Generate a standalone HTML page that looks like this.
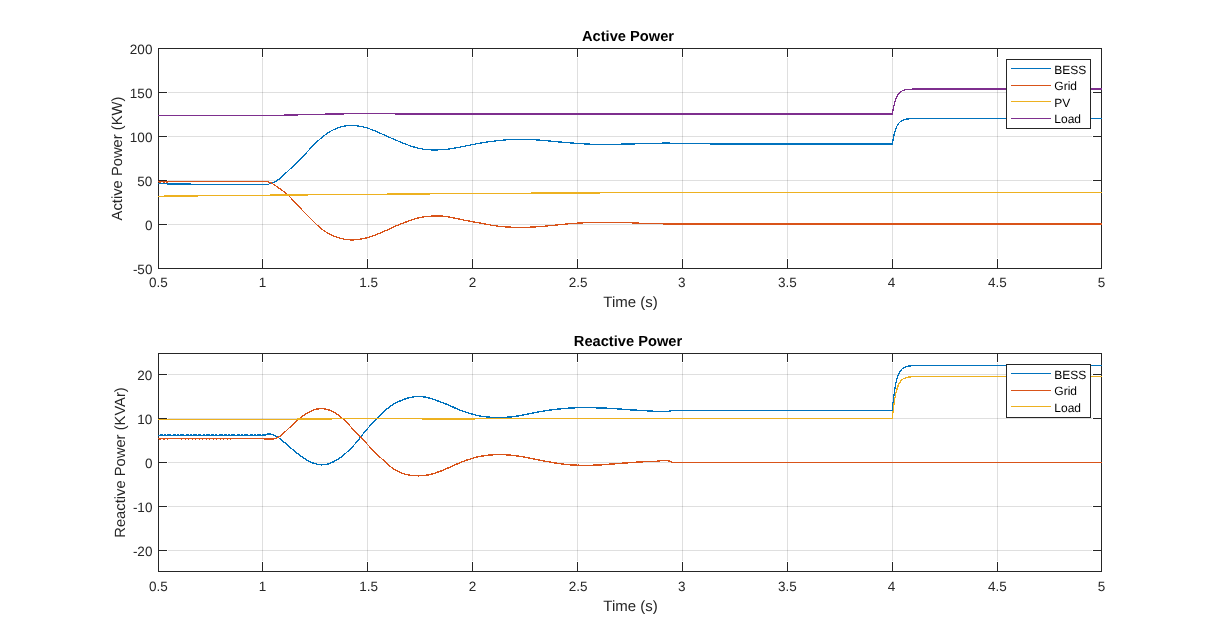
<!DOCTYPE html>
<html lang="en">
<head>
<meta charset="utf-8">
<title>Active and Reactive Power</title>
<style>
html,body{margin:0;padding:0;background:#fff;}
body{width:1218px;height:643px;overflow:hidden;}
svg{display:block;font-family:"Liberation Sans",sans-serif;}
svg{will-change:transform;}
text{filter:grayscale(1);}
</style>
</head>
<body>
<svg width="1218" height="643" viewBox="0 0 1218 643" shape-rendering="crispEdges" text-rendering="geometricPrecision">
<rect width="1218" height="643" fill="#fff"/>
<path d="M262.5,58V258M367.5,58V258M472.5,58V258M577.5,58V258M682.5,58V258M787.5,58V258M892.5,58V258M997.5,58V258" stroke="#262626" stroke-opacity=".15" stroke-width="1" fill="none"/>
<path d="M168,92.5H1092M168,136.5H1092M168,180.5H1092M168,224.5H1092" stroke="#262626" stroke-opacity=".15" stroke-width="1" fill="none"/>
<path d="M262.5,268v-9M262.5,49v8M367.5,268v-9M367.5,49v8M472.5,268v-9M472.5,49v8M577.5,268v-9M577.5,49v8M682.5,268v-9M682.5,49v8M787.5,268v-9M787.5,49v8M892.5,268v-9M892.5,49v8M997.5,268v-9M997.5,49v8M159,92.5h8M1101,92.5h-8M159,136.5h8M1101,136.5h-8M159,180.5h8M1101,180.5h-8M159,224.5h8M1101,224.5h-8" stroke="#262626" stroke-width="1" fill="none"/>
<rect x="158.5" y="48.5" width="943" height="220" fill="none" stroke="#262626" stroke-width="1"/>
<clipPath id="c1"><rect x="158" y="48" width="944" height="221"/></clipPath>
<g clip-path="url(#c1)" fill="none" stroke-width="1.25" stroke-linejoin="round">
<path d="M157.8,183.5L166.7,183.5L167.3,184.0L190.7,184.0L191.3,184.5L267.5,184.5L267.8,184.5L268.3,184.3L268.8,184.1L269.3,183.9L269.8,183.8L270.3,183.6L270.8,183.4L271.3,183.2L271.8,183.0L272.3,182.8L272.8,182.6L273.3,182.4L273.8,182.2L274.3,182.0L274.8,181.8L275.3,181.5L275.8,181.3L276.3,181.0L276.8,180.7L277.3,180.4L277.8,180.0L278.3,179.7L278.8,179.3L279.3,178.9L279.8,178.5L280.3,178.1L280.8,177.7L281.3,177.2L281.8,176.8L282.3,176.3L282.8,175.9L283.3,175.4L283.8,174.9L284.3,174.4L284.8,174.0L285.3,173.5L285.8,173.0L286.3,172.6L286.8,172.1L287.3,171.6L287.8,171.2L288.3,170.7L288.8,170.2L289.3,169.8L289.8,169.3L290.3,168.8L290.8,168.4L291.3,167.9L291.8,167.4L292.3,167.0L292.8,166.5L293.3,166.0L293.8,165.6L294.3,165.1L294.8,164.6L295.3,164.1L295.8,163.7L296.3,163.2L296.8,162.7L297.3,162.2L297.8,161.7L298.3,161.2L298.8,160.7L299.3,160.2L299.8,159.7L300.3,159.2L300.8,158.7L301.3,158.1L301.8,157.6L302.3,157.1L302.8,156.6L303.3,156.0L303.8,155.5L304.3,155.0L304.8,154.4L305.3,153.9L305.8,153.4L306.3,152.8L306.8,152.3L307.3,151.7L307.8,151.2L308.3,150.7L308.8,150.1L309.3,149.6L309.8,149.1L310.3,148.5L310.8,148.0L311.3,147.5L311.8,146.9L312.3,146.4L312.8,145.9L313.3,145.4L313.8,144.9L314.3,144.4L314.8,143.9L315.3,143.4L315.8,142.9L316.3,142.4L316.8,141.9L317.3,141.5L317.8,141.0L318.3,140.5L318.8,140.1L319.3,139.6L319.8,139.2L320.3,138.7L320.8,138.3L321.3,137.9L321.8,137.5L322.3,137.0L322.8,136.6L323.3,136.2L323.8,135.9L324.3,135.5L324.8,135.1L325.3,134.7L325.8,134.4L326.3,134.0L326.8,133.7L327.3,133.3L327.8,133.0L328.3,132.7L328.8,132.4L329.3,132.1L329.8,131.8L330.3,131.5L330.8,131.2L331.3,130.9L331.8,130.7L332.3,130.4L332.8,130.2L333.3,129.9L333.8,129.7L334.3,129.5L334.8,129.3L335.3,129.0L335.8,128.8L336.3,128.6L336.8,128.4L337.3,128.2L337.8,128.0L338.3,127.9L338.8,127.7L339.3,127.5L339.8,127.3L340.3,127.2L340.8,127.0L341.3,126.9L341.8,126.7L342.3,126.6L342.8,126.5L343.3,126.4L343.8,126.3L344.3,126.1L344.8,126.0L345.3,126.0L345.8,125.9L346.3,125.8L346.8,125.7L347.3,125.7L347.8,125.6L348.3,125.5L348.8,125.5L349.3,125.5L349.8,125.4L350.3,125.4L350.8,125.4L351.3,125.4L351.8,125.4L352.3,125.4L352.8,125.4L353.3,125.5L353.8,125.5L354.3,125.5L354.8,125.6L355.3,125.6L355.8,125.7L356.3,125.7L356.8,125.8L357.3,125.9L357.8,125.9L358.3,126.0L358.8,126.1L359.3,126.2L359.8,126.3L360.3,126.4L360.8,126.5L361.3,126.6L361.8,126.7L362.3,126.8L362.8,126.9L363.3,127.0L363.8,127.1L364.3,127.3L364.8,127.4L365.3,127.5L365.8,127.7L366.3,127.8L366.8,127.9L367.3,128.1L367.8,128.2L368.3,128.4L368.8,128.6L369.3,128.7L369.8,128.9L370.3,129.1L370.8,129.3L371.3,129.4L371.8,129.6L372.3,129.8L372.8,130.0L373.3,130.2L373.8,130.4L374.3,130.6L374.8,130.8L375.3,131.0L375.8,131.2L376.3,131.4L376.8,131.7L377.3,131.9L377.8,132.1L378.3,132.3L378.8,132.5L379.3,132.8L379.8,133.0L380.3,133.2L380.8,133.4L381.3,133.6L381.8,133.9L382.3,134.1L382.8,134.3L383.3,134.5L383.8,134.8L384.3,135.0L384.8,135.2L385.3,135.4L385.8,135.7L386.3,135.9L386.8,136.1L387.3,136.3L387.8,136.5L388.3,136.8L388.8,137.0L389.3,137.2L389.8,137.4L390.3,137.6L390.8,137.9L391.3,138.1L391.8,138.3L392.3,138.5L392.8,138.7L393.3,138.9L393.8,139.2L394.3,139.4L394.8,139.6L395.3,139.8L395.8,140.0L396.3,140.2L396.8,140.4L397.3,140.7L397.8,140.9L398.3,141.1L398.8,141.3L399.3,141.5L399.8,141.7L400.3,141.9L400.8,142.1L401.3,142.3L401.8,142.6L402.3,142.8L402.8,143.0L403.3,143.2L403.8,143.4L404.3,143.6L404.8,143.8L405.3,144.0L405.8,144.2L406.3,144.4L406.8,144.6L407.3,144.8L407.8,144.9L408.3,145.1L408.8,145.3L409.3,145.5L409.8,145.7L410.3,145.9L410.8,146.0L411.3,146.2L411.8,146.4L412.3,146.5L412.8,146.7L413.3,146.8L413.8,147.0L414.3,147.1L414.8,147.3L415.3,147.4L415.8,147.6L416.3,147.7L416.8,147.8L417.3,148.0L417.8,148.1L418.3,148.2L418.8,148.3L419.3,148.4L419.8,148.5L420.3,148.6L420.8,148.7L421.3,148.8L421.8,148.9L422.3,149.0L422.8,149.1L423.3,149.2L423.8,149.3L424.3,149.3L424.8,149.4L425.3,149.5L425.8,149.5L426.3,149.6L426.8,149.6L427.3,149.7L427.8,149.7L428.3,149.7L428.8,149.8L429.3,149.8L429.8,149.8L430.3,149.8L430.8,149.8L431.3,149.9L431.8,149.9L432.3,149.9L432.8,149.9L433.3,149.9L433.8,149.9L434.3,149.9L434.8,149.9L435.3,149.9L435.8,149.9L436.3,149.9L436.8,149.9L437.3,149.9L437.8,149.9L438.3,149.8L438.8,149.8L439.3,149.8L439.8,149.8L440.3,149.8L440.8,149.8L441.3,149.7L441.8,149.7L442.3,149.7L442.8,149.6L443.3,149.6L443.8,149.6L444.3,149.5L444.8,149.5L445.3,149.4L445.8,149.4L446.3,149.3L446.8,149.3L447.3,149.2L447.8,149.2L448.3,149.1L448.8,149.0L449.3,149.0L449.8,148.9L450.3,148.8L450.8,148.7L451.3,148.7L451.8,148.6L452.3,148.5L452.8,148.4L453.3,148.3L453.8,148.2L454.3,148.1L454.8,148.1L455.3,148.0L455.8,147.9L456.3,147.8L456.8,147.7L457.3,147.6L457.8,147.5L458.3,147.4L458.8,147.3L459.3,147.2L459.8,147.1L460.3,147.0L460.8,146.9L461.3,146.8L461.8,146.7L462.3,146.6L462.8,146.5L463.3,146.4L463.8,146.3L464.3,146.2L464.8,146.1L465.3,146.0L465.8,145.9L466.3,145.8L466.8,145.7L467.3,145.6L467.8,145.5L468.3,145.4L468.8,145.3L469.3,145.2L469.8,145.1L470.3,145.0L470.8,144.9L471.3,144.8L471.8,144.7L472.3,144.6L472.8,144.5L473.3,144.4L473.8,144.3L474.3,144.2L474.8,144.2L475.3,144.1L475.8,144.0L476.3,143.9L476.8,143.8L477.3,143.7L477.8,143.6L478.3,143.5L478.8,143.4L479.3,143.3L479.8,143.2L480.3,143.1L480.8,143.0L481.3,143.0L481.8,142.9L482.3,142.8L482.8,142.7L483.3,142.6L483.8,142.5L484.3,142.5L484.8,142.4L485.3,142.3L485.8,142.2L486.3,142.1L486.8,142.1L487.3,142.0L487.8,141.9L488.3,141.8L488.8,141.8L489.3,141.7L489.8,141.6L490.3,141.6L490.8,141.5L491.3,141.4L491.8,141.4L492.3,141.3L492.8,141.2L493.3,141.2L493.8,141.1L494.3,141.1L494.8,141.0L495.3,140.9L495.8,140.9L496.3,140.8L496.8,140.8L497.3,140.7L497.8,140.6L498.3,140.6L498.8,140.5L499.3,140.5L499.8,140.4L500.3,140.4L500.8,140.3L501.3,140.3L501.8,140.2L502.3,140.2L502.8,140.1L503.3,140.1L503.8,140.1L504.3,140.0L504.8,140.0L505.3,139.9L505.8,139.9L506.3,139.9L506.8,139.8L507.3,139.8L507.8,139.8L508.3,139.7L508.8,139.7L509.3,139.7L509.8,139.7L510.3,139.6L510.8,139.6L511.3,139.6L511.8,139.6L512.3,139.5L512.8,139.5L513.3,139.5L513.8,139.5L514.3,139.5L514.8,139.5L515.3,139.5L515.8,139.5L516.3,139.4L516.8,139.4L517.3,139.4L517.8,139.4L518.3,139.4L518.8,139.4L519.3,139.4L519.8,139.4L520.3,139.4L520.8,139.4L521.3,139.4L521.8,139.4L522.3,139.4L522.8,139.4L523.3,139.4L523.8,139.4L524.3,139.4L524.8,139.4L525.3,139.4L525.8,139.4L526.3,139.4L526.8,139.5L527.3,139.5L527.8,139.5L528.3,139.5L528.8,139.5L529.3,139.5L529.8,139.5L530.3,139.6L530.8,139.6L531.3,139.6L531.8,139.6L532.3,139.6L532.8,139.7L533.3,139.7L533.8,139.7L534.3,139.7L534.8,139.8L535.3,139.8L535.8,139.8L536.3,139.9L536.8,139.9L537.3,139.9L537.8,140.0L538.3,140.0L538.8,140.0L539.3,140.1L539.8,140.1L540.3,140.2L540.8,140.2L541.3,140.2L541.8,140.3L542.3,140.3L542.8,140.4L543.3,140.4L543.8,140.5L544.3,140.5L544.8,140.6L545.3,140.6L545.8,140.7L546.3,140.7L546.8,140.8L547.3,140.8L547.8,140.9L548.3,140.9L548.8,141.0L549.3,141.0L549.8,141.0L550.3,141.1L550.8,141.1L551.3,141.2L551.8,141.2L552.3,141.3L552.8,141.3L553.3,141.4L553.8,141.4L554.3,141.5L554.8,141.5L555.3,141.6L555.8,141.6L556.3,141.7L556.8,141.7L557.3,141.8L557.8,141.8L558.3,141.9L558.8,141.9L559.3,142.0L559.8,142.0L560.3,142.0L560.8,142.1L561.3,142.1L561.8,142.2L562.3,142.2L562.8,142.3L563.3,142.3L563.8,142.4L564.3,142.4L564.8,142.4L565.3,142.5L565.8,142.5L566.3,142.6L566.8,142.6L567.3,142.6L567.8,142.7L568.3,142.7L568.8,142.7L569.3,142.8L569.8,142.8L570.3,142.9L570.8,142.9L571.3,142.9L571.8,143.0L572.3,143.0L572.8,143.0L573.3,143.1L573.8,143.1L574.3,143.2L574.8,143.2L575.3,143.2L575.8,143.3L576.3,143.3L576.8,143.3L577.3,143.4L577.8,143.4L578.3,143.4L578.8,143.5L579.3,143.5L579.8,143.5L580.3,143.6L580.8,143.6L581.3,143.7L581.8,143.7L582.3,143.7L582.8,143.8L583.3,143.8L583.8,143.8L584.3,143.9L584.8,143.9L585.3,143.9L585.8,143.9L586.3,144.0L586.8,144.0L587.3,144.0L587.8,144.0L588.3,144.1L588.8,144.1L589.3,144.1L589.8,144.1L590.3,144.2L590.8,144.2L591.3,144.2L591.8,144.2L592.3,144.2L592.8,144.2L593.3,144.3L593.8,144.3L594.3,144.3L594.8,144.3L595.3,144.3L595.8,144.3L596.3,144.3L596.8,144.3L597.3,144.3L597.8,144.3L598.3,144.3L598.8,144.3L599.3,144.3L599.8,144.3L600.3,144.3L600.8,144.4L601.3,144.4L601.8,144.4L602.3,144.4L602.8,144.4L603.3,144.3L603.8,144.3L604.3,144.3L604.8,144.3L605.3,144.3L605.8,144.3L606.3,144.3L606.8,144.3L607.3,144.3L607.8,144.3L608.3,144.3L608.8,144.3L609.3,144.3L609.8,144.3L610.3,144.3L610.8,144.3L611.3,144.3L611.8,144.3L612.3,144.3L612.8,144.3L613.3,144.3L613.8,144.3L614.3,144.2L614.8,144.2L615.3,144.2L615.8,144.2L616.3,144.2L616.8,144.2L617.3,144.2L617.8,144.2L618.3,144.2L618.8,144.2L619.3,144.2L619.8,144.2L620.3,144.2L620.8,144.2L621.3,144.1L621.8,144.1L622.3,144.1L622.8,144.1L623.3,144.1L623.8,144.1L624.3,144.1L624.8,144.1L625.3,144.1L625.8,144.1L626.3,144.1L626.8,144.0L627.3,144.0L627.8,144.0L628.3,144.0L628.8,144.0L629.3,144.0L629.8,144.0L630.3,144.0L630.8,144.0L631.3,143.9L631.8,143.9L632.3,143.9L632.8,143.9L633.3,143.9L633.8,143.9L634.3,143.9L634.8,143.9L635.3,143.8L635.8,143.8L636.3,143.8L636.8,143.8L637.3,143.8L637.8,143.8L638.3,143.8L638.8,143.8L639.3,143.7L639.8,143.7L640.3,143.7L640.8,143.7L641.3,143.7L641.8,143.7L642.3,143.7L642.8,143.7L643.3,143.6L643.8,143.6L644.3,143.6L644.8,143.6L645.3,143.6L645.8,143.6L646.3,143.6L646.8,143.6L647.3,143.5L647.8,143.5L648.3,143.5L648.8,143.5L649.3,143.5L649.8,143.5L650.3,143.5L650.8,143.5L651.3,143.5L651.8,143.5L652.3,143.5L652.8,143.5L653.3,143.5L653.8,143.5L654.3,143.4L654.8,143.4L655.3,143.4L655.8,143.4L656.3,143.4L656.8,143.4L657.3,143.4L657.8,143.4L658.3,143.4L658.8,143.4L659.3,143.4L659.8,143.4L660.3,143.5L661.7,143.5L662.3,143.0L669.7,143.0L670.3,143.5L709.7,143.5L710.3,144.0L892.1,144.0L892.4,144.0L892.6,142.4L892.9,140.9L893.1,139.4L893.4,138.1L893.6,136.9L893.9,135.7L894.1,134.6L894.4,133.6L894.6,132.6L894.9,131.7L895.1,130.9L895.4,130.1L895.6,129.3L895.9,128.7L896.1,128.0L896.4,127.4L896.6,126.8L896.9,126.3L897.1,125.8L897.4,125.3L897.6,124.9L897.9,124.5L898.1,124.1L898.4,123.8L898.6,123.4L898.9,123.1L899.1,122.8L899.4,122.5L899.6,122.3L899.9,122.0L900.1,121.8L900.4,121.6L900.6,121.4L900.9,121.2L901.1,121.0L901.4,120.9L901.6,120.7L901.9,120.6L902.1,120.5L902.4,120.3L902.6,120.2L902.9,120.1L903.1,120.0L903.4,119.9L903.6,119.8L903.9,119.7L904.1,119.7L904.4,119.6L904.6,119.5L904.9,119.5L905.1,119.4L905.4,119.3L905.6,119.3L905.9,119.2L906.1,119.2L906.4,119.1L906.6,119.1L906.9,119.1L907.1,119.0L907.4,119.0L907.6,119.0L907.9,118.9L908.1,118.9L908.4,118.9L908.6,118.9L908.9,118.8L909.1,118.8L909.4,118.8L909.6,118.8L909.9,118.8L910.1,118.7L910.4,118.7L910.6,118.7L910.9,118.7L911.1,118.7L911.4,118.7L911.6,118.7L911.9,118.7L912.1,118.6L912.4,118.6L912.6,118.6L912.9,118.6L913.1,118.6L913.4,118.6L913.6,118.6L913.9,118.6L914.1,118.6L914.4,118.6L914.6,118.6L914.9,118.6L915.1,118.6L915.4,118.6L915.6,118.6L915.9,118.6L916.1,118.5L916.4,118.5L916.6,118.5L916.9,118.5L917.1,118.5L917.4,118.5L917.6,118.5L917.9,118.5L918.1,118.5L918.4,118.5L918.6,118.5L918.9,118.5L919.1,118.5L919.4,118.5L919.6,118.5L919.9,118.5L920.1,118.5L920.4,118.5L920.6,118.5L920.9,118.5L921.1,118.5L921.4,118.5L921.6,118.5L921.9,118.5L922.1,118.5L922.4,118.5L922.9,118.5L923.4,118.5L923.9,118.5L924.4,118.5L924.9,118.5L925.4,118.5L925.9,118.5L926.4,118.5L926.9,118.5L927.4,118.5L927.9,118.5L928.4,118.5L928.9,118.5L929.4,118.5L929.9,118.5L930.4,118.5L930.9,118.5L931.4,118.5L931.9,118.5L932.4,118.5L932.9,118.5L933.4,118.5L933.9,118.5L934.4,118.5L934.9,118.5L935.4,118.5L935.9,118.5L936.4,118.5L936.9,118.5L937.4,118.5L937.9,118.5L938.4,118.5L938.9,118.5L939.4,118.5L939.9,118.5L940.4,118.5L940.9,118.5L941.4,118.5L941.9,118.5L942.4,118.5L942.9,118.5L943.4,118.5L943.9,118.5L944.4,118.5L944.9,118.5L945.4,118.5L945.9,118.5L946.4,118.5L946.9,118.5L947.4,118.5L947.9,118.5L948.4,118.5L948.9,118.5L949.4,118.5L949.9,118.5L950.4,118.5L950.9,118.5L951.4,118.5L951.9,118.5L952.4,118.5L952.9,118.5L953.4,118.5L953.9,118.5L954.4,118.5L954.9,118.5L955.4,118.5L955.9,118.5L956.4,118.5L956.9,118.5L957.4,118.5L957.9,118.5L958.4,118.5L958.9,118.5L959.4,118.5L959.9,118.5L960.4,118.5L960.9,118.5L961.4,118.5L961.9,118.5L962.4,118.5L962.9,118.5L963.4,118.5L963.9,118.5L964.4,118.5L964.9,118.5L965.4,118.5L965.9,118.5L966.4,118.5L966.9,118.5L967.4,118.5L967.9,118.5L968.4,118.5L968.9,118.5L969.4,118.5L969.9,118.5L970.4,118.5L970.9,118.5L971.4,118.5L971.9,118.5L972.4,118.5L972.9,118.5L973.4,118.5L973.9,118.5L974.4,118.5L974.9,118.5L975.4,118.5L975.9,118.5L976.4,118.5L976.9,118.5L977.4,118.5L977.9,118.5L978.4,118.5L978.9,118.5L979.4,118.5L979.9,118.5L980.4,118.5L980.9,118.5L981.4,118.5L981.9,118.5L982.4,118.5L982.9,118.5L983.4,118.5L983.9,118.5L984.4,118.5L984.9,118.5L985.4,118.5L985.9,118.5L986.4,118.5L986.9,118.5L987.4,118.5L987.9,118.5L988.4,118.5L988.9,118.5L989.4,118.5L989.9,118.5L990.4,118.5L990.9,118.5L991.4,118.5L991.9,118.5L992.4,118.5L992.9,118.5L993.4,118.5L993.9,118.5L994.4,118.5L994.9,118.5L995.4,118.5L995.9,118.5L996.4,118.5L996.9,118.5L997.4,118.5L997.9,118.5L998.4,118.5L998.9,118.5L999.4,118.5L999.9,118.5L1000.4,118.5L1000.9,118.5L1001.4,118.5L1001.9,118.5L1002.4,118.5L1002.9,118.5L1003.4,118.5L1003.9,118.5L1004.4,118.5L1004.9,118.5L1005.4,118.5L1005.9,118.5L1006.4,118.5L1006.9,118.5L1007.4,118.5L1007.9,118.5L1008.4,118.5L1008.9,118.5L1009.4,118.5L1009.9,118.5L1010.4,118.5L1010.9,118.5L1011.4,118.5L1011.9,118.5L1012.4,118.5L1012.9,118.5L1013.4,118.5L1013.9,118.5L1014.4,118.5L1014.9,118.5L1015.4,118.5L1015.9,118.5L1016.4,118.5L1016.9,118.5L1017.4,118.5L1017.9,118.5L1018.4,118.5L1018.9,118.5L1019.4,118.5L1019.9,118.5L1020.4,118.5L1020.9,118.5L1021.4,118.5L1021.9,118.5L1022.4,118.5L1022.9,118.5L1023.4,118.5L1023.9,118.5L1024.4,118.5L1024.9,118.5L1025.4,118.5L1025.9,118.5L1026.4,118.5L1026.9,118.5L1027.4,118.5L1027.9,118.5L1028.4,118.5L1028.9,118.5L1029.4,118.5L1029.9,118.5L1030.4,118.5L1030.9,118.5L1031.4,118.5L1031.9,118.5L1032.4,118.5L1032.9,118.5L1033.4,118.5L1033.9,118.5L1034.4,118.5L1034.9,118.5L1035.4,118.5L1035.9,118.5L1036.4,118.5L1036.9,118.5L1037.4,118.5L1037.9,118.5L1038.4,118.5L1038.9,118.5L1039.4,118.5L1039.9,118.5L1040.4,118.5L1040.9,118.5L1041.4,118.5L1041.9,118.5L1042.4,118.5L1042.9,118.5L1043.4,118.5L1043.9,118.5L1044.4,118.5L1044.9,118.5L1045.4,118.5L1045.9,118.5L1046.4,118.5L1046.9,118.5L1047.4,118.5L1047.9,118.5L1048.4,118.5L1048.9,118.5L1049.4,118.5L1049.9,118.5L1050.4,118.5L1050.9,118.5L1051.4,118.5L1051.9,118.5L1052.4,118.5L1052.9,118.5L1053.4,118.5L1053.9,118.5L1054.4,118.5L1054.9,118.5L1055.4,118.5L1055.9,118.5L1056.4,118.5L1056.9,118.5L1057.4,118.5L1057.9,118.5L1058.4,118.5L1058.9,118.5L1059.4,118.5L1059.9,118.5L1060.4,118.5L1060.9,118.5L1061.4,118.5L1061.9,118.5L1062.4,118.5L1062.9,118.5L1063.4,118.5L1063.9,118.5L1064.4,118.5L1064.9,118.5L1065.4,118.5L1065.9,118.5L1066.4,118.5L1066.9,118.5L1067.4,118.5L1067.9,118.5L1068.4,118.5L1068.9,118.5L1069.4,118.5L1069.9,118.5L1070.4,118.5L1070.9,118.5L1071.4,118.5L1071.9,118.5L1072.4,118.5L1072.9,118.5L1073.4,118.5L1073.9,118.5L1074.4,118.5L1074.9,118.5L1075.4,118.5L1075.9,118.5L1076.4,118.5L1076.9,118.5L1077.4,118.5L1077.9,118.5L1078.4,118.5L1078.9,118.5L1079.4,118.5L1079.9,118.5L1080.4,118.5L1080.9,118.5L1081.4,118.5L1081.9,118.5L1082.4,118.5L1082.9,118.5L1083.4,118.5L1083.9,118.5L1084.4,118.5L1084.9,118.5L1085.4,118.5L1085.9,118.5L1086.4,118.5L1086.9,118.5L1087.4,118.5L1087.9,118.5L1088.4,118.5L1088.9,118.5L1089.4,118.5L1089.9,118.5L1090.4,118.5L1090.9,118.5L1091.4,118.5L1091.9,118.5L1092.4,118.5L1092.9,118.5L1093.4,118.5L1093.9,118.5L1094.4,118.5L1094.9,118.5L1095.4,118.5L1095.9,118.5L1096.4,118.5L1096.9,118.5L1097.4,118.5L1097.9,118.5L1098.4,118.5L1098.9,118.5L1099.4,118.5L1099.9,118.5L1100.4,118.5L1100.9,118.5L1101.4,118.5L1101.9,118.5" stroke="#0072BD"/>
<path d="M157.8,181.5L265.1,181.5L265.4,181.5L265.9,181.6L266.4,181.7L266.9,181.7L267.4,181.8L267.9,181.9L268.4,182.0L268.9,182.2L269.4,182.3L269.9,182.4L270.4,182.6L270.9,182.8L271.4,183.0L271.9,183.3L272.4,183.6L272.9,183.9L273.4,184.2L273.9,184.5L274.4,184.9L274.9,185.2L275.4,185.6L275.9,185.9L276.4,186.3L276.9,186.7L277.4,187.0L277.9,187.4L278.4,187.7L278.9,188.1L279.4,188.4L279.9,188.8L280.4,189.1L280.9,189.5L281.4,189.8L281.9,190.2L282.4,190.6L282.9,190.9L283.4,191.3L283.9,191.7L284.4,192.1L284.9,192.5L285.4,192.9L285.9,193.3L286.4,193.7L286.9,194.2L287.4,194.6L287.9,195.1L288.4,195.6L288.9,196.0L289.4,196.5L289.9,197.0L290.4,197.5L290.9,198.0L291.4,198.5L291.9,199.1L292.4,199.6L292.9,200.1L293.4,200.6L293.9,201.2L294.4,201.7L294.9,202.2L295.4,202.8L295.9,203.3L296.4,203.8L296.9,204.4L297.4,204.9L297.9,205.5L298.4,206.0L298.9,206.5L299.4,207.1L299.9,207.6L300.4,208.2L300.9,208.7L301.4,209.2L301.9,209.8L302.4,210.3L302.9,210.8L303.4,211.4L303.9,211.9L304.4,212.4L304.9,212.9L305.4,213.5L305.9,214.0L306.4,214.5L306.9,215.0L307.4,215.5L307.9,216.0L308.4,216.5L308.9,217.0L309.4,217.5L309.9,218.0L310.4,218.5L310.9,219.0L311.4,219.5L311.9,220.0L312.4,220.5L312.9,221.0L313.4,221.5L313.9,222.0L314.4,222.5L314.9,222.9L315.4,223.4L315.9,223.9L316.4,224.4L316.9,224.8L317.4,225.3L317.9,225.7L318.4,226.2L318.9,226.6L319.4,227.1L319.9,227.5L320.4,227.9L320.9,228.3L321.4,228.8L321.9,229.2L322.4,229.5L322.9,229.9L323.4,230.3L323.9,230.7L324.4,231.0L324.9,231.4L325.4,231.7L325.9,232.0L326.4,232.3L326.9,232.6L327.4,232.9L327.9,233.2L328.4,233.5L328.9,233.8L329.4,234.1L329.9,234.3L330.4,234.6L330.9,234.8L331.4,235.1L331.9,235.3L332.4,235.5L332.9,235.7L333.4,236.0L333.9,236.2L334.4,236.4L334.9,236.6L335.4,236.7L335.9,236.9L336.4,237.1L336.9,237.3L337.4,237.4L337.9,237.6L338.4,237.7L338.9,237.9L339.4,238.0L339.9,238.2L340.4,238.3L340.9,238.4L341.4,238.5L341.9,238.7L342.4,238.8L342.9,238.9L343.4,239.0L343.9,239.1L344.4,239.2L344.9,239.3L345.4,239.4L345.9,239.4L346.4,239.5L346.9,239.6L347.4,239.6L347.9,239.7L348.4,239.7L348.9,239.8L349.4,239.8L349.9,239.8L350.4,239.9L350.9,239.9L351.4,239.9L351.9,239.9L352.4,239.9L352.9,239.9L353.4,239.9L353.9,239.9L354.4,239.8L354.9,239.8L355.4,239.8L355.9,239.7L356.4,239.7L356.9,239.6L357.4,239.6L357.9,239.5L358.4,239.4L358.9,239.4L359.4,239.3L359.9,239.2L360.4,239.1L360.9,239.0L361.4,238.9L361.9,238.9L362.4,238.8L362.9,238.7L363.4,238.6L363.9,238.4L364.4,238.3L364.9,238.2L365.4,238.1L365.9,238.0L366.4,237.9L366.9,237.7L367.4,237.6L367.9,237.5L368.4,237.3L368.9,237.2L369.4,237.0L369.9,236.9L370.4,236.7L370.9,236.6L371.4,236.4L371.9,236.3L372.4,236.1L372.9,235.9L373.4,235.7L373.9,235.6L374.4,235.4L374.9,235.2L375.4,235.0L375.9,234.8L376.4,234.6L376.9,234.4L377.4,234.2L377.9,234.0L378.4,233.8L378.9,233.6L379.4,233.4L379.9,233.2L380.4,233.0L380.9,232.8L381.4,232.6L381.9,232.4L382.4,232.2L382.9,231.9L383.4,231.7L383.9,231.5L384.4,231.3L384.9,231.0L385.4,230.8L385.9,230.6L386.4,230.4L386.9,230.1L387.4,229.9L387.9,229.7L388.4,229.4L388.9,229.2L389.4,229.0L389.9,228.8L390.4,228.5L390.9,228.3L391.4,228.1L391.9,227.8L392.4,227.6L392.9,227.4L393.4,227.2L393.9,226.9L394.4,226.7L394.9,226.5L395.4,226.3L395.9,226.0L396.4,225.8L396.9,225.6L397.4,225.4L397.9,225.2L398.4,225.0L398.9,224.8L399.4,224.5L399.9,224.3L400.4,224.1L400.9,223.9L401.4,223.7L401.9,223.5L402.4,223.3L402.9,223.2L403.4,223.0L403.9,222.8L404.4,222.6L404.9,222.4L405.4,222.2L405.9,222.0L406.4,221.9L406.9,221.7L407.4,221.5L407.9,221.3L408.4,221.1L408.9,220.9L409.4,220.8L409.9,220.6L410.4,220.4L410.9,220.2L411.4,220.0L411.9,219.9L412.4,219.7L412.9,219.5L413.4,219.4L413.9,219.2L414.4,219.0L414.9,218.9L415.4,218.7L415.9,218.6L416.4,218.4L416.9,218.3L417.4,218.1L417.9,218.0L418.4,217.9L418.9,217.8L419.4,217.6L419.9,217.5L420.4,217.4L420.9,217.3L421.4,217.2L421.9,217.2L422.4,217.1L422.9,217.0L423.4,216.9L423.9,216.9L424.4,216.8L424.9,216.7L425.4,216.7L425.9,216.6L426.4,216.6L426.9,216.5L427.4,216.5L427.9,216.4L428.4,216.4L428.9,216.3L429.4,216.3L429.9,216.2L430.4,216.2L430.9,216.1L431.4,216.1L431.9,216.1L432.4,216.0L432.9,216.0L433.4,216.0L433.9,216.0L434.4,215.9L434.9,215.9L435.4,215.9L435.9,215.9L436.4,215.9L436.9,215.9L437.4,215.9L437.9,215.9L438.4,215.9L438.9,215.9L439.4,215.9L439.9,216.0L440.4,216.0L440.9,216.0L441.4,216.0L441.9,216.1L442.4,216.1L442.9,216.2L443.4,216.2L443.9,216.3L444.4,216.3L444.9,216.4L445.4,216.4L445.9,216.5L446.4,216.6L446.9,216.6L447.4,216.7L447.9,216.8L448.4,216.9L448.9,217.0L449.4,217.1L449.9,217.1L450.4,217.2L450.9,217.3L451.4,217.4L451.9,217.5L452.4,217.6L452.9,217.7L453.4,217.8L453.9,218.0L454.4,218.1L454.9,218.2L455.4,218.3L455.9,218.4L456.4,218.5L456.9,218.6L457.4,218.7L457.9,218.8L458.4,218.9L458.9,219.0L459.4,219.1L459.9,219.2L460.4,219.3L460.9,219.4L461.4,219.5L461.9,219.7L462.4,219.8L462.9,219.9L463.4,220.0L463.9,220.1L464.4,220.2L464.9,220.3L465.4,220.4L465.9,220.5L466.4,220.5L466.9,220.6L467.4,220.7L467.9,220.8L468.4,220.9L468.9,221.0L469.4,221.1L469.9,221.2L470.4,221.3L470.9,221.4L471.4,221.5L471.9,221.6L472.4,221.7L472.9,221.8L473.4,221.9L473.9,222.0L474.4,222.0L474.9,222.1L475.4,222.2L475.9,222.3L476.4,222.4L476.9,222.5L477.4,222.6L477.9,222.7L478.4,222.8L478.9,222.9L479.4,223.0L479.9,223.0L480.4,223.1L480.9,223.2L481.4,223.3L481.9,223.4L482.4,223.5L482.9,223.6L483.4,223.7L483.9,223.8L484.4,223.9L484.9,224.0L485.4,224.1L485.9,224.2L486.4,224.3L486.9,224.3L487.4,224.4L487.9,224.5L488.4,224.6L488.9,224.7L489.4,224.8L489.9,224.9L490.4,225.0L490.9,225.1L491.4,225.2L491.9,225.3L492.4,225.4L492.9,225.4L493.4,225.5L493.9,225.6L494.4,225.7L494.9,225.8L495.4,225.8L495.9,225.9L496.4,226.0L496.9,226.1L497.4,226.1L497.9,226.2L498.4,226.2L498.9,226.3L499.4,226.4L499.9,226.4L500.4,226.5L500.9,226.5L501.4,226.6L501.9,226.6L502.4,226.7L502.9,226.7L503.4,226.7L503.9,226.8L504.4,226.8L504.9,226.9L505.4,226.9L505.9,226.9L506.4,226.9L506.9,227.0L507.4,227.0L507.9,227.0L508.4,227.0L508.9,227.1L509.4,227.1L509.9,227.1L510.4,227.1L510.9,227.1L511.4,227.2L511.9,227.2L512.4,227.2L512.9,227.2L513.4,227.2L513.9,227.2L514.4,227.2L514.9,227.3L515.4,227.3L515.9,227.3L516.4,227.3L516.9,227.3L517.4,227.3L517.9,227.3L518.4,227.3L518.9,227.3L519.4,227.3L519.9,227.3L520.4,227.3L520.9,227.3L521.4,227.3L521.9,227.3L522.4,227.3L522.9,227.3L523.4,227.3L523.9,227.3L524.4,227.3L524.9,227.3L525.4,227.3L525.9,227.3L526.4,227.2L526.9,227.2L527.4,227.2L527.9,227.2L528.4,227.2L528.9,227.2L529.4,227.2L529.9,227.2L530.4,227.1L530.9,227.1L531.4,227.1L531.9,227.1L532.4,227.1L532.9,227.0L533.4,227.0L533.9,227.0L534.4,227.0L534.9,226.9L535.4,226.9L535.9,226.9L536.4,226.8L536.9,226.8L537.4,226.8L537.9,226.7L538.4,226.7L538.9,226.7L539.4,226.6L539.9,226.6L540.4,226.5L540.9,226.5L541.4,226.4L541.9,226.4L542.4,226.4L542.9,226.3L543.4,226.3L543.9,226.2L544.4,226.2L544.9,226.1L545.4,226.1L545.9,226.0L546.4,226.0L546.9,225.9L547.4,225.9L547.9,225.8L548.4,225.8L548.9,225.7L549.4,225.7L549.9,225.6L550.4,225.6L550.9,225.5L551.4,225.5L551.9,225.4L552.4,225.4L552.9,225.3L553.4,225.3L553.9,225.2L554.4,225.2L554.9,225.1L555.4,225.1L555.9,225.0L556.4,225.0L556.9,224.9L557.4,224.9L557.9,224.8L558.4,224.8L558.9,224.7L559.4,224.7L559.9,224.6L560.4,224.6L560.9,224.5L561.4,224.5L561.9,224.4L562.4,224.4L562.9,224.3L563.4,224.3L563.9,224.2L564.4,224.2L564.9,224.1L565.4,224.1L565.9,224.0L566.4,224.0L566.9,223.9L567.4,223.9L567.9,223.9L568.4,223.8L568.9,223.8L569.4,223.7L569.9,223.7L570.4,223.6L570.9,223.6L571.4,223.6L571.9,223.5L572.4,223.5L572.9,223.4L573.4,223.4L573.9,223.4L574.4,223.3L574.9,223.3L575.4,223.2L575.9,223.2L576.4,223.2L576.9,223.1L577.4,223.1L577.9,223.1L578.4,223.1L578.9,223.0L579.4,223.0L579.9,223.0L580.4,223.0L580.9,222.9L581.4,222.9L581.9,222.9L582.4,222.9L582.9,222.8L583.4,222.8L583.9,222.8L584.4,222.8L584.9,222.8L585.4,222.8L585.9,222.7L586.4,222.7L586.9,222.7L587.4,222.7L587.9,222.7L588.4,222.7L588.9,222.7L589.4,222.6L589.9,222.6L590.4,222.6L590.9,222.6L591.4,222.6L591.9,222.6L592.4,222.6L592.9,222.6L593.4,222.6L593.9,222.5L594.4,222.5L594.9,222.5L595.4,222.5L595.9,222.5L596.4,222.5L596.9,222.5L597.4,222.5L597.9,222.5L598.4,222.5L598.9,222.5L599.4,222.5L599.9,222.4L600.4,222.4L600.9,222.4L601.4,222.4L601.9,222.4L602.4,222.4L602.9,222.4L603.4,222.4L603.9,222.4L604.4,222.4L604.9,222.4L605.4,222.4L605.9,222.4L606.4,222.4L606.9,222.4L607.4,222.4L607.9,222.4L608.4,222.4L608.9,222.4L609.4,222.4L609.9,222.4L610.4,222.4L610.9,222.4L611.4,222.4L611.9,222.4L612.4,222.4L612.9,222.4L613.4,222.4L613.9,222.4L614.4,222.4L614.9,222.4L615.4,222.4L615.9,222.4L616.4,222.5L616.9,222.5L617.4,222.5L617.9,222.5L618.4,222.5L618.9,222.5L619.4,222.5L619.9,222.5L620.4,222.5L620.9,222.5L621.4,222.5L621.9,222.5L622.4,222.6L622.9,222.6L623.4,222.6L623.9,222.6L624.4,222.6L624.9,222.6L625.4,222.6L625.9,222.7L626.4,222.7L626.9,222.7L627.4,222.7L627.9,222.7L628.4,222.7L628.9,222.7L629.4,222.8L629.9,222.8L630.4,222.8L630.9,222.8L631.4,222.8L631.9,222.8L632.4,222.9L632.9,222.9L633.4,222.9L633.9,222.9L634.4,222.9L634.9,223.0L635.4,223.0L635.9,223.0L636.4,223.0L636.9,223.1L637.4,223.1L637.9,223.1L638.4,223.1L638.9,223.1L639.4,223.2L639.9,223.2L640.4,223.2L640.9,223.2L641.4,223.3L641.9,223.3L642.4,223.3L642.9,223.3L643.4,223.3L643.9,223.4L644.4,223.4L644.9,223.4L645.4,223.4L645.9,223.5L646.4,223.5L646.9,223.5L647.4,223.5L647.9,223.5L648.4,223.5L648.9,223.6L649.4,223.6L649.9,223.6L650.4,223.6L650.9,223.6L651.4,223.6L651.9,223.7L652.4,223.7L652.9,223.7L653.4,223.7L653.9,223.7L654.4,223.7L654.9,223.7L655.4,223.7L655.9,223.7L656.4,223.8L656.9,223.8L657.4,223.8L657.9,223.8L658.4,223.8L658.9,223.8L659.4,223.8L659.9,223.8L660.4,223.8L660.9,223.8L661.4,223.8L661.9,223.8L662.4,223.8L662.9,223.8L663.4,223.9L663.9,223.9L664.4,223.9L664.9,223.9L665.4,223.9L665.9,223.9L666.4,223.9L666.9,223.9L667.4,223.9L667.9,223.9L668.4,223.9L668.9,223.9L669.4,223.9L669.9,223.9L670.3,224.0L1101.7,224.0" stroke="#D95319"/>
<path d="M157.8,196.5L163.7,196.5L164.3,196.0L197.7,196.0L198.3,195.5L269.7,195.5L270.3,195.0L307.7,195.0L308.3,194.5L386.7,194.5L387.3,194.0L429.7,194.0L430.3,193.5L530.7,193.5L531.3,193.0L599.7,193.0L600.3,192.5L1101.7,192.5" stroke="#EDB120"/>
<path d="M157.8,115.5L283.7,115.5L284.3,115.0L297.7,115.0L298.3,114.5L324.7,114.5L325.3,114.0L343.7,114.0L344.3,113.5L394.7,113.5L395.3,114.0L892.1,114.0L892.4,114.0L892.6,112.4L892.9,110.9L893.1,109.5L893.4,108.2L893.6,107.0L893.9,105.8L894.1,104.8L894.4,103.8L894.6,102.8L894.9,101.9L895.1,101.1L895.4,100.4L895.6,99.6L895.9,99.0L896.1,98.3L896.4,97.7L896.6,97.2L896.9,96.6L897.1,96.2L897.4,95.7L897.6,95.3L897.9,94.9L898.1,94.5L898.4,94.2L898.6,93.8L898.9,93.5L899.1,93.2L899.4,93.0L899.6,92.7L899.9,92.5L900.1,92.3L900.4,92.0L900.6,91.9L900.9,91.7L901.1,91.5L901.4,91.3L901.6,91.2L901.9,91.1L902.1,90.9L902.4,90.8L902.6,90.7L902.9,90.6L903.1,90.5L903.4,90.4L903.6,90.3L903.9,90.2L904.1,90.1L904.4,90.1L904.6,90.0L904.9,89.9L905.1,89.9L905.4,89.8L905.6,89.8L905.9,89.7L906.1,89.7L906.4,89.6L906.6,89.6L906.9,89.6L907.1,89.5L907.4,89.5L907.6,89.5L907.9,89.4L908.1,89.4L908.4,89.4L908.6,89.3L908.9,89.3L909.1,89.3L909.4,89.3L909.6,89.3L909.9,89.2L910.1,89.2L910.4,89.2L910.6,89.2L910.9,89.2L911.1,89.2L911.4,89.2L911.6,89.2L911.9,89.1L912.1,89.1L912.4,89.1L912.6,89.1L912.9,89.1L913.1,89.1L913.4,89.1L913.6,89.1L913.9,89.1L914.1,89.1L914.4,89.1L914.6,89.1L914.9,89.1L915.1,89.1L915.4,89.1L915.6,89.1L915.9,89.1L916.1,89.0L916.4,89.0L916.6,89.0L916.9,89.0L917.1,89.0L917.4,89.0L917.6,89.0L917.9,89.0L918.1,89.0L918.4,89.0L918.6,89.0L918.9,89.0L919.1,89.0L919.4,89.0L919.6,89.0L919.9,89.0L920.1,89.0L920.4,89.0L920.6,89.0L920.9,89.0L921.1,89.0L921.4,89.0L921.6,89.0L921.9,89.0L922.1,89.0L922.4,89.0L922.7,89.0L1101.7,89.0" stroke="#7E2F8E"/>
<path d="M168,183.5H191" stroke="#0072BD" stroke-width="1" stroke-dasharray="2 1.5 5 1.5 8 1.5"/>
<path d="M159,182.5H168" stroke="#D95319" stroke-width="1" stroke-dasharray="2.2 1.3"/>
</g>
<g font-size="13.5" fill="#262626">
<text x="158.50" y="286.7" text-anchor="middle">0.5</text>
<text x="262.50" y="286.7" text-anchor="middle">1</text>
<text x="368.60" y="286.7" text-anchor="middle">1.5</text>
<text x="472.50" y="286.7" text-anchor="middle">2</text>
<text x="578.20" y="286.7" text-anchor="middle">2.5</text>
<text x="681.65" y="286.7" text-anchor="middle">3</text>
<text x="787.50" y="286.7" text-anchor="middle">3.5</text>
<text x="891.60" y="286.7" text-anchor="middle">4</text>
<text x="997.50" y="286.7" text-anchor="middle">4.5</text>
<text x="1101.50" y="286.7" text-anchor="middle">5</text>
<text x="152.4" y="53.8" text-anchor="end">200</text>
<text x="152.4" y="97.8" text-anchor="end">150</text>
<text x="152.4" y="141.8" text-anchor="end">100</text>
<text x="152.4" y="185.8" text-anchor="end">50</text>
<text x="152.4" y="229.8" text-anchor="end">0</text>
<text x="152.4" y="273.8" text-anchor="end">-50</text>
</g>
<text x="630.5" y="306.6" font-size="15" fill="#262626" text-anchor="middle">Time (s)</text>
<text transform="translate(121.9,158.5) rotate(-90)" font-size="14.75" fill="#262626" text-anchor="middle">Active Power (KW)</text>
<text x="628" y="41" font-size="14.67" font-weight="bold" fill="#000" text-anchor="middle">Active Power</text>
<rect x="1006.5" y="59.5" width="84" height="69" fill="#fff" stroke="#262626" stroke-width="1"/>
<path d="M1011,68.5H1051" stroke="#0072BD" stroke-width="1"/>
<text x="1054.3" y="73.9" font-size="12" fill="#000">BESS</text>
<path d="M1011,85.5H1051" stroke="#D95319" stroke-width="1"/>
<text x="1054.3" y="89.9" font-size="12" fill="#000">Grid</text>
<path d="M1011,101.5H1051" stroke="#EDB120" stroke-width="1"/>
<text x="1054.3" y="106.9" font-size="12" fill="#000">PV</text>
<path d="M1011,118.5H1051" stroke="#7E2F8E" stroke-width="1"/>
<text x="1054.3" y="122.9" font-size="12" fill="#000">Load</text>
<path d="M262.5,363V561M367.5,363V561M472.5,363V561M577.5,363V561M682.5,363V561M787.5,363V561M892.5,363V561M997.5,363V561" stroke="#262626" stroke-opacity=".15" stroke-width="1" fill="none"/>
<path d="M168,374.5H1092M168,418.5H1092M168,462.5H1092M168,506.5H1092M168,550.5H1092" stroke="#262626" stroke-opacity=".15" stroke-width="1" fill="none"/>
<path d="M262.5,571v-9M262.5,354v8M367.5,571v-9M367.5,354v8M472.5,571v-9M472.5,354v8M577.5,571v-9M577.5,354v8M682.5,571v-9M682.5,354v8M787.5,571v-9M787.5,354v8M892.5,571v-9M892.5,354v8M997.5,571v-9M997.5,354v8M159,374.5h8M1101,374.5h-8M159,418.5h8M1101,418.5h-8M159,462.5h8M1101,462.5h-8M159,506.5h8M1101,506.5h-8M159,550.5h8M1101,550.5h-8" stroke="#262626" stroke-width="1" fill="none"/>
<rect x="158.5" y="353.5" width="943" height="218" fill="none" stroke="#262626" stroke-width="1"/>
<clipPath id="c2"><rect x="158" y="353" width="944" height="219"/></clipPath>
<g clip-path="url(#c2)" fill="none" stroke-width="1.25" stroke-linejoin="round">
<path d="M157.8,435.5L263.7,435.5L264.0,435.5L264.5,435.0L265.0,435.2L265.5,434.6L266.0,434.7L266.5,434.3L267.0,434.5L267.5,434.1L268.0,434.3L268.5,434.0L269.0,434.3L269.5,434.0L270.0,434.4L270.5,434.1L271.0,434.6L271.5,434.3L272.0,434.8L272.5,434.6L273.0,435.1L273.5,434.9L274.0,435.3L274.5,435.2L275.0,435.7L275.5,435.7L276.0,436.3L276.5,436.2L277.0,436.8L277.5,436.8L278.0,437.4L278.5,437.5L279.0,438.1L279.5,438.2L280.0,438.9L280.5,438.9L281.0,439.7L281.5,439.7L282.0,440.5L282.5,440.5L283.0,441.3L283.5,441.4L284.0,442.2L284.5,442.2L285.0,443.0L285.5,443.1L286.0,443.9L286.5,444.0L287.0,444.8L287.5,444.9L288.0,445.6L288.5,445.7L289.0,446.5L289.5,446.6L290.0,447.4L290.5,447.5L291.0,448.2L291.5,448.3L292.0,449.1L292.5,449.2L293.0,449.9L293.5,450.0L294.0,450.7L294.5,450.8L295.0,451.6L295.5,451.6L296.0,452.4L296.5,452.5L297.0,453.2L297.5,453.3L298.0,454.0L298.5,454.0L299.0,454.7L299.5,454.8L300.0,455.5L300.5,455.5L301.0,456.2L301.5,456.3L302.0,457.0L302.5,457.1L303.0,457.7L303.5,457.7L304.0,458.4L304.5,458.5L305.0,459.1L305.5,459.1L306.0,459.8L306.5,459.7L307.0,460.3L307.5,460.3L308.0,460.9L308.5,460.9L309.0,461.5L309.5,461.4L310.0,462.0L310.5,461.9L311.0,462.4L311.5,462.3L312.0,462.8L312.5,462.7L313.0,463.2L313.5,463.1L314.0,463.6L314.5,463.4L315.0,463.9L315.5,463.7L316.0,464.1L316.5,464.0L317.0,464.4L317.5,464.2L318.0,464.6L318.5,464.4L319.0,464.9L319.5,464.6L320.0,464.9L320.5,464.7L321.0,465.0L321.5,464.8L322.0,465.1L322.5,464.7L323.0,465.1L323.5,464.7L324.0,465.0L324.5,464.6L325.0,464.9L325.5,464.4L326.0,464.7L326.5,464.3L327.0,464.5L327.5,464.0L328.0,464.2L328.5,463.7L329.0,463.9L329.5,463.4L330.0,463.5L330.5,463.0L331.0,463.1L331.5,462.6L332.0,462.7L332.5,462.1L333.0,462.2L333.5,461.6L334.0,461.7L334.5,461.1L335.0,461.1L335.5,460.5L336.0,460.6L336.5,459.9L337.0,459.9L337.5,459.3L338.0,459.3L338.5,458.6L339.0,458.6L339.5,457.9L340.0,457.9L340.5,457.2L341.0,457.2L341.5,456.4L342.0,456.4L342.5,455.7L343.0,455.6L343.5,454.8L344.0,454.7L344.5,454.0L345.0,453.9L345.5,453.2L346.0,453.1L346.5,452.3L347.0,452.1L347.5,451.4L348.0,451.3L348.5,450.4L349.0,450.3L349.5,449.5L350.0,449.3L350.5,448.5L351.0,448.3L351.5,447.5L352.0,447.3L352.5,446.4L353.0,446.2L353.5,445.3L354.0,445.1L354.5,444.3L355.0,444.0L355.5,443.1L356.0,442.8L356.5,441.9L357.0,441.6L357.5,440.7L358.0,440.4L358.5,439.4L359.0,439.2L359.5,438.2L360.0,437.9L360.5,436.9L361.0,436.6L361.5,435.7L362.0,435.4L362.5,434.5L363.0,434.1L363.5,433.2L364.0,432.9L364.5,432.0L365.0,431.6L365.5,430.8L366.0,430.5L366.5,429.6L367.0,429.3L367.5,428.4L368.0,428.1L368.5,427.2L369.0,427.0L369.5,426.1L370.0,425.9L370.5,425.0L371.0,424.8L371.5,424.0L372.0,423.7L372.5,422.8L373.0,422.6L373.5,421.8L374.0,421.6L374.5,420.7L375.0,420.5L375.5,419.6L376.0,419.5L376.5,418.7L377.0,418.4L377.5,417.6L378.0,417.4L378.5,416.6L379.0,416.4L379.5,415.6L380.0,415.4L380.5,414.6L381.0,414.4L381.5,413.6L382.0,413.5L382.5,412.7L383.0,412.5L383.5,411.8L384.0,411.7L384.5,410.9L385.0,410.7L385.5,410.0L386.0,409.9L386.5,409.1L387.0,409.0L387.5,408.3L388.0,408.2L388.5,407.5L389.0,407.4L389.5,406.7L390.0,406.7L390.5,406.0L391.0,405.9L391.5,405.3L392.0,405.3L392.5,404.7L393.0,404.6L393.5,404.0L394.0,404.1L394.5,403.5L395.0,403.5L395.5,402.9L396.0,403.0L396.5,402.4L397.0,402.5L397.5,402.0L398.0,402.1L398.5,401.5L399.0,401.6L399.5,401.0L400.0,401.2L400.5,400.6L401.0,400.8L401.5,400.2L402.0,400.3L402.5,399.8L403.0,400.0L403.5,399.4L404.0,399.6L404.5,399.1L405.0,399.2L405.5,398.8L406.0,398.9L406.5,398.4L407.0,398.6L407.5,398.1L408.0,398.3L408.5,397.8L409.0,398.1L409.5,397.6L410.0,397.8L410.5,397.4L411.0,397.6L411.5,397.2L412.0,397.4L412.5,396.9L413.0,397.2L413.5,396.8L414.0,397.1L414.5,396.7L415.0,396.9L415.5,396.5L416.0,396.8L416.5,396.5L417.0,396.8L417.5,396.5L418.0,396.7L418.5,396.4L419.0,396.7L419.5,396.5L420.0,396.8L420.5,396.5L421.0,396.8L421.5,396.5L422.0,396.9L422.5,396.6L423.0,397.0L423.5,396.8L424.0,397.1L424.5,396.9L425.0,397.3L425.5,397.1L426.0,397.5L426.5,397.3L427.0,397.7L427.5,397.5L428.0,397.9L428.5,397.7L429.0,398.2L429.5,398.1L430.0,398.5L430.5,398.3L431.0,398.8L431.5,398.7L432.0,399.1L432.5,399.0L433.0,399.5L433.5,399.3L434.0,399.8L434.5,399.6L435.0,400.1L435.5,400.0L436.0,400.5L436.5,400.4L437.0,400.9L437.5,400.7L438.0,401.2L438.5,401.1L439.0,401.6L439.5,401.4L440.0,401.9L440.5,401.8L441.0,402.3L441.5,402.2L442.0,402.7L442.5,402.5L443.0,403.1L443.5,402.9L444.0,403.5L444.5,403.3L445.0,403.8L445.5,403.7L446.0,404.2L446.5,404.1L447.0,404.6L447.5,404.5L448.0,405.1L448.5,404.9L449.0,405.5L449.5,405.4L450.0,405.9L450.5,405.8L451.0,406.3L451.5,406.2L452.0,406.8L452.5,406.7L453.0,407.2L453.5,407.1L454.0,407.7L454.5,407.6L455.0,408.2L455.5,408.0L456.0,408.6L456.5,408.5L457.0,409.0L457.5,408.9L458.0,409.4L458.5,409.3L459.0,409.9L459.5,409.7L460.0,410.3L460.5,410.2L461.0,410.6L461.5,410.5L462.0,411.1L462.5,410.9L463.0,411.4L463.5,411.3L464.0,411.8L464.5,411.7L465.0,412.1L465.5,412.0L466.0,412.5L466.5,412.3L467.0,412.8L467.5,412.6L468.0,413.1L468.5,413.0L469.0,413.5L469.5,413.2L470.0,413.7L470.5,413.6L471.0,414.0L471.5,413.9L472.0,414.3L472.5,414.1L473.0,414.6L473.5,414.4L474.0,414.8L474.5,414.7L475.0,415.1L475.5,414.9L476.0,415.3L476.5,415.2L477.0,415.6L477.5,415.4L478.0,415.8L478.5,415.6L479.0,416.0L479.5,415.8L480.0,416.2L480.5,415.9L481.0,416.4L481.5,416.2L482.0,416.5L482.5,416.3L483.0,416.7L483.5,416.5L484.0,416.9L484.5,416.6L485.0,417.0L485.5,416.7L486.0,417.1L486.5,416.8L487.0,417.3L487.5,417.0L488.0,417.3L488.5,417.1L489.0,417.4L489.5,417.1L490.0,417.5L490.5,417.2L491.0,417.5L491.5,417.2L492.0,417.6L492.5,417.3L493.0,417.7L493.5,417.4L494.0,417.7L494.5,417.4L495.0,417.7L495.5,417.4L496.0,417.7L496.5,417.4L497.0,417.8L497.5,417.5L498.0,417.7L498.5,417.4L499.0,417.7L499.5,417.5L500.0,417.7L500.5,417.4L501.0,417.8L501.5,417.4L502.0,417.7L502.5,417.4L503.0,417.7L503.5,417.4L504.0,417.7L504.5,417.3L505.0,417.6L505.5,417.3L506.0,417.6L506.5,417.2L507.0,417.5L507.5,417.1L508.0,417.4L508.5,417.0L509.0,417.3L509.5,417.0L510.0,417.2L510.5,416.9L511.0,417.2L511.5,416.8L512.0,417.1L512.5,416.7L513.0,416.9L513.5,416.5L514.0,416.8L514.5,416.4L515.0,416.7L515.5,416.3L516.0,416.5L516.5,416.1L517.0,416.3L517.5,416.0L518.0,416.2L518.5,415.8L519.0,416.1L519.5,415.6L520.0,415.9L520.5,415.5L521.0,415.7L521.5,415.3L522.0,415.5L522.5,415.1L523.0,415.3L523.5,414.9L524.0,415.1L524.5,414.7L525.0,414.9L525.5,414.5L526.0,414.7L526.5,414.3L527.0,414.6L527.5,414.1L528.0,414.3L528.5,413.9L529.0,414.1L529.5,413.7L530.0,414.0L530.5,413.5L531.0,413.7L531.5,413.3L532.0,413.5L532.5,413.1L533.0,413.3L533.5,412.9L534.0,413.1L534.5,412.7L535.0,412.9L535.5,412.5L536.0,412.7L536.5,412.3L537.0,412.5L537.5,412.1L538.0,412.3L538.5,411.9L539.0,412.1L539.5,411.7L540.0,411.9L540.5,411.5L541.0,411.8L541.5,411.3L542.0,411.6L542.5,411.2L543.0,411.4L543.5,411.0L544.0,411.3L544.5,410.9L545.0,411.1L545.5,410.7L546.0,410.9L546.5,410.5L547.0,410.8L547.5,410.4L548.0,410.6L548.5,410.2L549.0,410.5L549.5,410.1L550.0,410.4L550.5,410.0L551.0,410.2L551.5,409.8L552.0,410.1L552.5,409.7L553.0,409.9L553.5,409.6L554.0,409.8L554.5,409.4L555.0,409.7L555.5,409.3L556.0,409.6L556.5,409.3L557.0,409.5L557.5,409.1L558.0,409.4L558.5,409.0L559.0,409.2L559.5,408.9L560.0,409.1L560.5,408.8L561.0,409.0L561.5,408.7L562.0,409.0L562.5,408.6L563.0,408.8L563.5,408.5L564.0,408.8L564.5,408.4L565.0,408.7L565.5,408.3L566.0,408.6L566.5,408.2L567.0,408.6L567.5,408.2L568.0,408.5L568.5,408.1L569.0,408.4L569.5,408.1L570.0,408.3L570.5,408.0L571.0,408.3L571.5,407.9L572.0,408.2L572.5,407.9L573.0,408.1L573.5,407.8L574.0,408.1L574.5,407.8L575.0,408.0L575.5,407.7L576.0,408.0L576.5,407.7L577.0,408.0L577.5,407.6L578.0,408.0L578.5,407.7L579.0,407.9L579.5,407.6L580.0,407.9L580.5,407.6L581.0,407.9L581.5,407.6L582.0,407.9L582.5,407.6L583.0,407.9L583.5,407.5L584.0,407.9L584.5,407.5L585.0,407.9L585.5,407.6L586.0,407.9L586.5,407.6L587.0,407.9L587.5,407.6L588.0,407.9L588.5,407.6L589.0,407.9L589.5,407.6L590.0,407.9L590.5,407.7L591.0,407.9L591.5,407.6L592.0,408.0L592.5,407.7L593.0,408.0L593.5,407.7L594.0,408.0L594.5,407.7L595.0,408.0L595.5,407.7L596.0,408.1L596.5,407.8L597.0,408.1L597.5,407.8L598.0,408.1L598.5,407.8L599.0,408.2L599.5,407.8L600.0,408.2L600.5,407.9L601.0,408.2L601.5,408.0L602.0,408.3L602.5,408.0L603.0,408.3L603.5,408.0L604.0,408.3L604.5,408.1L605.0,408.4L605.5,408.1L606.0,408.4L606.5,408.1L607.0,408.5L607.5,408.2L608.0,408.5L608.5,408.2L609.0,408.6L609.5,408.3L610.0,408.7L610.5,408.4L611.0,408.7L611.5,408.5L612.0,408.8L612.5,408.5L613.0,408.8L613.5,408.6L614.0,408.9L614.5,408.6L615.0,409.0L615.5,408.7L616.0,409.1L616.5,408.7L617.0,409.1L617.5,408.8L618.0,409.2L618.5,408.9L619.0,409.2L619.5,409.0L620.0,409.3L620.5,409.0L621.0,409.4L621.5,409.1L622.0,409.5L622.5,409.2L623.0,409.5L623.5,409.2L624.0,409.6L624.5,409.4L625.0,409.7L625.5,409.4L626.0,409.8L626.5,409.5L627.0,409.9L627.5,409.6L628.0,409.9L628.5,409.6L629.0,410.0L629.5,409.7L630.0,410.1L630.5,409.8L631.0,410.1L631.5,409.8L632.0,410.2L632.5,409.9L633.0,410.3L633.5,410.0L634.0,410.3L634.5,410.0L635.0,410.4L635.5,410.1L636.0,410.4L636.5,410.1L637.0,410.5L637.5,410.2L638.0,410.5L638.5,410.3L639.0,410.6L639.5,410.3L640.0,410.7L640.5,410.4L641.0,410.7L641.5,410.4L642.0,410.8L642.5,410.5L643.0,410.8L643.5,410.5L644.0,410.9L644.5,410.6L645.0,411.0L645.5,410.6L646.0,411.0L646.5,410.7L647.0,411.1L647.5,410.8L648.0,411.2L648.5,410.9L649.0,411.2L649.5,410.9L650.0,411.3L650.5,410.9L651.0,411.3L651.5,411.0L652.0,411.4L652.5,411.1L653.0,411.5L653.5,411.2L654.0,411.5L654.5,411.3L655.0,411.6L655.5,411.3L656.0,411.7L656.5,411.4L657.0,411.7L657.5,411.4L658.0,411.8L658.5,411.5L659.0,411.9L659.5,411.6L660.0,411.9L660.5,411.6L661.0,412.0L661.5,411.7L662.0,412.0L662.5,411.7L663.0,412.0L663.5,411.7L664.0,411.9L664.5,411.6L665.0,411.9L665.5,411.6L666.0,411.9L666.5,411.5L667.0,411.7L667.5,411.4L668.0,411.7L668.5,411.2L669.0,411.5L669.5,411.1L670.0,411.3L670.5,410.9L671.0,411.1L671.5,410.7L672.0,410.9L672.5,410.5L673.0,410.7L673.5,410.5L674.0,410.5L674.5,410.5L675.0,410.5L675.5,410.5L676.0,410.5L676.5,410.5L677.0,410.5L677.5,410.5L678.0,410.5L678.5,410.5L679.0,410.5L679.5,410.5L680.0,410.5L680.5,410.5L681.0,410.5L681.5,410.5L682.0,410.5L682.5,410.5L683.0,410.5L683.5,410.5L684.0,410.5L684.5,410.5L685.0,410.5L685.5,410.5L686.0,410.5L686.5,410.5L687.0,410.5L687.5,410.5L688.0,410.5L688.5,410.5L689.0,410.5L689.5,410.5L690.0,410.5L690.5,410.5L691.0,410.5L691.5,410.5L692.0,410.5L692.5,410.5L693.0,410.5L693.5,410.5L694.0,410.5L694.5,410.5L695.0,410.5L695.5,410.5L696.0,410.5L696.5,410.5L697.0,410.5L697.5,410.5L698.0,410.5L698.5,410.5L699.0,410.5L699.5,410.5L700.0,410.5L700.5,410.5L701.0,410.5L701.5,410.5L702.0,410.5L702.5,410.5L703.0,410.5L703.5,410.5L704.0,410.5L704.5,410.5L705.0,410.5L705.5,410.5L706.0,410.5L706.5,410.5L707.0,410.5L707.5,410.5L708.0,410.5L708.5,410.5L709.0,410.5L709.5,410.5L710.0,410.5L710.5,410.5L711.0,410.5L711.5,410.5L712.0,410.5L712.5,410.5L713.0,410.5L713.5,410.5L714.0,410.5L714.5,410.5L715.0,410.5L715.5,410.5L716.0,410.5L716.5,410.5L717.0,410.5L717.5,410.5L718.0,410.5L718.5,410.5L719.0,410.5L719.5,410.5L720.0,410.5L720.5,410.5L721.0,410.5L721.5,410.5L722.0,410.5L722.5,410.5L723.0,410.5L723.5,410.5L724.0,410.5L724.5,410.5L725.0,410.5L725.5,410.5L726.0,410.5L726.5,410.5L727.0,410.5L727.5,410.5L728.0,410.5L728.5,410.5L729.0,410.5L729.5,410.5L730.0,410.5L730.5,410.5L731.0,410.5L731.5,410.5L732.0,410.5L732.5,410.5L733.0,410.5L733.5,410.5L734.0,410.5L734.5,410.5L735.0,410.5L735.5,410.5L736.0,410.5L736.5,410.5L737.0,410.5L737.5,410.5L738.0,410.5L738.5,410.5L739.0,410.5L739.5,410.5L740.0,410.5L740.5,410.5L741.0,410.5L741.5,410.5L742.0,410.5L742.5,410.5L743.0,410.5L743.5,410.5L744.0,410.5L744.5,410.5L745.0,410.5L745.5,410.5L746.0,410.5L746.5,410.5L747.0,410.5L747.5,410.5L748.0,410.5L748.5,410.5L749.0,410.5L749.5,410.5L750.0,410.5L750.5,410.5L751.0,410.5L751.5,410.5L752.0,410.5L752.5,410.5L753.0,410.5L753.5,410.5L754.0,410.5L754.5,410.5L755.0,410.5L755.5,410.5L756.0,410.5L756.5,410.5L757.0,410.5L757.5,410.5L758.0,410.5L758.5,410.5L759.0,410.5L759.5,410.5L760.0,410.5L760.5,410.5L761.0,410.5L761.5,410.5L762.0,410.5L762.5,410.5L763.0,410.5L763.5,410.5L764.0,410.5L764.5,410.5L765.0,410.5L765.5,410.5L766.0,410.5L766.5,410.5L767.0,410.5L767.5,410.5L768.0,410.5L768.5,410.5L769.0,410.5L769.5,410.5L770.0,410.5L770.5,410.5L771.0,410.5L771.5,410.5L772.0,410.5L772.5,410.5L773.0,410.5L773.5,410.5L774.0,410.5L774.5,410.5L775.0,410.5L775.5,410.5L776.0,410.5L776.5,410.5L777.0,410.5L777.5,410.5L778.0,410.5L778.5,410.5L779.0,410.5L779.5,410.5L780.0,410.5L780.5,410.5L781.0,410.5L781.5,410.5L782.0,410.5L782.5,410.5L783.0,410.5L783.5,410.5L784.0,410.5L784.5,410.5L785.0,410.5L785.5,410.5L786.0,410.5L786.5,410.5L787.0,410.5L787.5,410.5L788.0,410.5L788.5,410.5L789.0,410.5L789.5,410.5L790.0,410.5L790.5,410.5L791.0,410.5L791.5,410.5L792.0,410.5L792.5,410.5L793.0,410.5L793.5,410.5L794.0,410.5L794.5,410.5L795.0,410.5L795.5,410.5L796.0,410.5L796.5,410.5L797.0,410.5L797.5,410.5L798.0,410.5L798.5,410.5L799.0,410.5L799.5,410.5L800.0,410.5L800.5,410.5L801.0,410.5L801.5,410.5L802.0,410.5L802.5,410.5L803.0,410.5L803.5,410.5L804.0,410.5L804.5,410.5L805.0,410.5L805.5,410.5L806.0,410.5L806.5,410.5L807.0,410.5L807.5,410.5L808.0,410.5L808.5,410.5L809.0,410.5L809.5,410.5L810.0,410.5L810.5,410.5L811.0,410.5L811.5,410.5L812.0,410.5L812.5,410.5L813.0,410.5L813.5,410.5L814.0,410.5L814.5,410.5L815.0,410.5L815.5,410.5L816.0,410.5L816.5,410.5L817.0,410.5L817.5,410.5L818.0,410.5L818.5,410.5L819.0,410.5L819.5,410.5L820.0,410.5L820.5,410.5L821.0,410.5L821.5,410.5L822.0,410.5L822.5,410.5L823.0,410.5L823.5,410.5L824.0,410.5L824.5,410.5L825.0,410.5L825.5,410.5L826.0,410.5L826.5,410.5L827.0,410.5L827.5,410.5L828.0,410.5L828.5,410.5L829.0,410.5L829.5,410.5L830.0,410.5L830.5,410.5L831.0,410.5L831.5,410.5L832.0,410.5L832.5,410.5L833.0,410.5L833.5,410.5L834.0,410.5L834.5,410.5L835.0,410.5L835.5,410.5L836.0,410.5L836.5,410.5L837.0,410.5L837.5,410.5L838.0,410.5L838.5,410.5L839.0,410.5L839.5,410.5L840.0,410.5L840.5,410.5L841.0,410.5L841.5,410.5L842.0,410.5L842.5,410.5L843.0,410.5L843.5,410.5L844.0,410.5L844.5,410.5L845.0,410.5L845.5,410.5L846.0,410.5L846.5,410.5L847.0,410.5L847.5,410.5L848.0,410.5L848.5,410.5L849.0,410.5L849.5,410.5L850.0,410.5L850.5,410.5L851.0,410.5L851.5,410.5L852.0,410.5L852.5,410.5L853.0,410.5L853.5,410.5L854.0,410.5L854.5,410.5L855.0,410.5L855.5,410.5L856.0,410.5L856.5,410.5L857.0,410.5L857.5,410.5L858.0,410.5L858.5,410.5L859.0,410.5L859.5,410.5L860.0,410.5L860.5,410.5L861.0,410.5L861.5,410.5L862.0,410.5L862.5,410.5L863.0,410.5L863.5,410.5L864.0,410.5L864.5,410.5L865.0,410.5L865.5,410.5L866.0,410.5L866.5,410.5L867.0,410.5L867.5,410.5L868.0,410.5L868.5,410.5L869.0,410.5L869.5,410.5L870.0,410.5L870.5,410.5L871.0,410.5L871.5,410.5L872.0,410.5L872.5,410.5L873.0,410.5L873.5,410.5L874.0,410.5L874.5,410.5L875.0,410.5L875.5,410.5L876.0,410.5L876.5,410.5L877.0,410.5L877.5,410.5L878.0,410.5L878.5,410.5L879.0,410.5L879.5,410.5L880.0,410.5L880.5,410.5L881.0,410.5L881.5,410.5L882.0,410.5L882.5,410.5L883.0,410.5L883.5,410.5L884.0,410.5L884.5,410.5L885.0,410.5L885.5,410.5L886.0,410.5L886.5,410.5L887.0,410.5L887.5,410.5L888.0,410.5L888.5,410.5L889.0,410.5L889.5,410.5L890.0,410.5L890.5,410.5L891.0,410.5L891.5,410.5L892.0,410.5L892.4,410.5L892.6,407.6L892.9,405.0L893.1,402.4L893.4,400.1L893.6,397.9L893.9,395.8L894.1,393.9L894.4,392.1L894.6,390.4L894.9,388.8L895.1,387.3L895.4,385.9L895.6,384.6L895.9,383.4L896.1,382.3L896.4,381.2L896.6,380.2L896.9,379.3L897.1,378.4L897.4,377.6L897.6,376.8L897.9,376.1L898.1,375.4L898.4,374.8L898.6,374.2L898.9,373.6L899.1,373.1L899.4,372.6L899.6,372.2L899.9,371.8L900.1,371.4L900.4,371.0L900.6,370.6L900.9,370.3L901.1,370.0L901.4,369.7L901.6,369.4L901.9,369.2L902.1,369.0L902.4,368.7L902.6,368.5L902.9,368.3L903.1,368.2L903.4,368.0L903.6,367.8L903.9,367.7L904.1,367.5L904.4,367.4L904.6,367.3L904.9,367.2L905.1,367.1L905.4,367.0L905.6,366.9L905.9,366.8L906.1,366.7L906.4,366.6L906.6,366.6L906.9,366.5L907.1,366.4L907.4,366.4L907.6,366.3L907.9,366.3L908.1,366.2L908.4,366.2L908.6,366.1L908.9,366.1L909.1,366.0L909.4,366.0L909.6,366.0L909.9,365.9L910.1,365.9L910.4,365.9L910.6,365.9L910.9,365.8L911.1,365.8L911.4,365.8L911.6,365.8L911.9,365.8L912.1,365.7L912.4,365.7L912.6,365.7L912.9,365.7L913.1,365.7L913.4,365.7L913.6,365.7L913.9,365.7L914.1,365.6L914.4,365.6L914.6,365.6L914.9,365.6L915.1,365.6L915.4,365.6L915.6,365.6L915.9,365.6L916.1,365.6L916.4,365.6L916.6,365.6L916.9,365.6L917.1,365.6L917.4,365.6L917.6,365.6L917.9,365.6L918.1,365.6L918.4,365.5L918.6,365.5L918.9,365.5L919.1,365.5L919.4,365.5L919.6,365.5L919.9,365.5L920.1,365.5L920.4,365.5L920.6,365.5L920.9,365.5L921.1,365.5L921.4,365.5L921.6,365.5L921.9,365.5L922.1,365.5L922.4,365.5L922.9,365.5L923.4,365.5L923.9,365.5L924.4,365.5L924.9,365.5L925.4,365.5L925.9,365.5L926.4,365.5L926.9,365.5L927.4,365.5L927.9,365.5L928.4,365.5L928.9,365.5L929.4,365.5L929.9,365.5L930.4,365.5L930.9,365.5L931.4,365.5L931.9,365.5L932.4,365.5L932.9,365.5L933.4,365.5L933.9,365.5L934.4,365.5L934.9,365.5L935.4,365.5L935.9,365.5L936.4,365.5L936.9,365.5L937.4,365.5L937.9,365.5L938.4,365.5L938.9,365.5L939.4,365.5L939.9,365.5L940.4,365.5L940.9,365.5L941.4,365.5L941.9,365.5L942.4,365.5L942.9,365.5L943.4,365.5L943.9,365.5L944.4,365.5L944.9,365.5L945.4,365.5L945.9,365.5L946.4,365.5L946.9,365.5L947.4,365.5L947.9,365.5L948.4,365.5L948.9,365.5L949.4,365.5L949.9,365.5L950.4,365.5L950.9,365.5L951.4,365.5L951.9,365.5L952.4,365.5L952.9,365.5L953.4,365.5L953.9,365.5L954.4,365.5L954.9,365.5L955.4,365.5L955.9,365.5L956.4,365.5L956.9,365.5L957.4,365.5L957.9,365.5L958.4,365.5L958.9,365.5L959.4,365.5L959.9,365.5L960.4,365.5L960.9,365.5L961.4,365.5L961.9,365.5L962.4,365.5L962.9,365.5L963.4,365.5L963.9,365.5L964.4,365.5L964.9,365.5L965.4,365.5L965.9,365.5L966.4,365.5L966.9,365.5L967.4,365.5L967.9,365.5L968.4,365.5L968.9,365.5L969.4,365.5L969.9,365.5L970.4,365.5L970.9,365.5L971.4,365.5L971.9,365.5L972.4,365.5L972.9,365.5L973.4,365.5L973.9,365.5L974.4,365.5L974.9,365.5L975.4,365.5L975.9,365.5L976.4,365.5L976.9,365.5L977.4,365.5L977.9,365.5L978.4,365.5L978.9,365.5L979.4,365.5L979.9,365.5L980.4,365.5L980.9,365.5L981.4,365.5L981.9,365.5L982.4,365.5L982.9,365.5L983.4,365.5L983.9,365.5L984.4,365.5L984.9,365.5L985.4,365.5L985.9,365.5L986.4,365.5L986.9,365.5L987.4,365.5L987.9,365.5L988.4,365.5L988.9,365.5L989.4,365.5L989.9,365.5L990.4,365.5L990.9,365.5L991.4,365.5L991.9,365.5L992.4,365.5L992.9,365.5L993.4,365.5L993.9,365.5L994.4,365.5L994.9,365.5L995.4,365.5L995.9,365.5L996.4,365.5L996.9,365.5L997.4,365.5L997.9,365.5L998.4,365.5L998.9,365.5L999.4,365.5L999.9,365.5L1000.4,365.5L1000.9,365.5L1001.4,365.5L1001.9,365.5L1002.4,365.5L1002.9,365.5L1003.4,365.5L1003.9,365.5L1004.4,365.5L1004.9,365.5L1005.4,365.5L1005.9,365.5L1006.4,365.5L1006.9,365.5L1007.4,365.5L1007.9,365.5L1008.4,365.5L1008.9,365.5L1009.4,365.5L1009.9,365.5L1010.4,365.5L1010.9,365.5L1011.4,365.5L1011.9,365.5L1012.4,365.5L1012.9,365.5L1013.4,365.5L1013.9,365.5L1014.4,365.5L1014.9,365.5L1015.4,365.5L1015.9,365.5L1016.4,365.5L1016.9,365.5L1017.4,365.5L1017.9,365.5L1018.4,365.5L1018.9,365.5L1019.4,365.5L1019.9,365.5L1020.4,365.5L1020.9,365.5L1021.4,365.5L1021.9,365.5L1022.4,365.5L1022.9,365.5L1023.4,365.5L1023.9,365.5L1024.4,365.5L1024.9,365.5L1025.4,365.5L1025.9,365.5L1026.4,365.5L1026.9,365.5L1027.4,365.5L1027.9,365.5L1028.4,365.5L1028.9,365.5L1029.4,365.5L1029.9,365.5L1030.4,365.5L1030.9,365.5L1031.4,365.5L1031.9,365.5L1032.4,365.5L1032.9,365.5L1033.4,365.5L1033.9,365.5L1034.4,365.5L1034.9,365.5L1035.4,365.5L1035.9,365.5L1036.4,365.5L1036.9,365.5L1037.4,365.5L1037.9,365.5L1038.4,365.5L1038.9,365.5L1039.4,365.5L1039.9,365.5L1040.4,365.5L1040.9,365.5L1041.4,365.5L1041.9,365.5L1042.4,365.5L1042.9,365.5L1043.4,365.5L1043.9,365.5L1044.4,365.5L1044.9,365.5L1045.4,365.5L1045.9,365.5L1046.4,365.5L1046.9,365.5L1047.4,365.5L1047.9,365.5L1048.4,365.5L1048.9,365.5L1049.4,365.5L1049.9,365.5L1050.4,365.5L1050.9,365.5L1051.4,365.5L1051.9,365.5L1052.4,365.5L1052.9,365.5L1053.4,365.5L1053.9,365.5L1054.4,365.5L1054.9,365.5L1055.4,365.5L1055.9,365.5L1056.4,365.5L1056.9,365.5L1057.4,365.5L1057.9,365.5L1058.4,365.5L1058.9,365.5L1059.4,365.5L1059.9,365.5L1060.4,365.5L1060.9,365.5L1061.4,365.5L1061.9,365.5L1062.4,365.5L1062.9,365.5L1063.4,365.5L1063.9,365.5L1064.4,365.5L1064.9,365.5L1065.4,365.5L1065.9,365.5L1066.4,365.5L1066.9,365.5L1067.4,365.5L1067.9,365.5L1068.4,365.5L1068.9,365.5L1069.4,365.5L1069.9,365.5L1070.4,365.5L1070.9,365.5L1071.4,365.5L1071.9,365.5L1072.4,365.5L1072.9,365.5L1073.4,365.5L1073.9,365.5L1074.4,365.5L1074.9,365.5L1075.4,365.5L1075.9,365.5L1076.4,365.5L1076.9,365.5L1077.4,365.5L1077.9,365.5L1078.4,365.5L1078.9,365.5L1079.4,365.5L1079.9,365.5L1080.4,365.5L1080.9,365.5L1081.4,365.5L1081.9,365.5L1082.4,365.5L1082.9,365.5L1083.4,365.5L1083.9,365.5L1084.4,365.5L1084.9,365.5L1085.4,365.5L1085.9,365.5L1086.4,365.5L1086.9,365.5L1087.4,365.5L1087.9,365.5L1088.4,365.5L1088.9,365.5L1089.4,365.5L1089.9,365.5L1090.4,365.5L1090.9,365.5L1091.4,365.5L1091.9,365.5L1092.4,365.5L1092.9,365.5L1093.4,365.5L1093.9,365.5L1094.4,365.5L1094.9,365.5L1095.4,365.5L1095.9,365.5L1096.4,365.5L1096.9,365.5L1097.4,365.5L1097.9,365.5L1098.4,365.5L1098.9,365.5L1099.4,365.5L1099.9,365.5L1100.4,365.5L1100.9,365.5L1101.4,365.5L1101.9,365.5" stroke="#0072BD"/>
<path d="M157.8,438.5L261.7,438.5L262.0,438.8L262.5,438.5L263.0,438.9L263.5,438.6L264.0,439.0L264.5,438.8L265.0,439.2L265.5,438.9L266.0,439.3L266.5,439.0L267.0,439.3L267.5,439.1L268.0,439.4L268.5,439.1L269.0,439.5L269.5,439.1L270.0,439.4L270.5,439.1L271.0,439.4L271.5,439.1L272.0,439.3L272.5,439.0L273.0,439.2L273.5,438.8L274.0,439.0L274.5,438.6L275.0,438.7L275.5,438.2L276.0,438.4L276.5,437.9L277.0,438.0L277.5,437.4L278.0,437.5L278.5,436.9L279.0,436.9L279.5,436.3L280.0,436.2L280.5,435.5L281.0,435.5L281.5,434.8L282.0,434.7L282.5,433.9L283.0,433.8L283.5,433.0L284.0,432.9L284.5,432.1L285.0,431.9L285.5,431.2L286.0,431.0L286.5,430.2L287.0,430.0L287.5,429.2L288.0,429.0L288.5,428.2L289.0,428.1L289.5,427.3L290.0,427.2L290.5,426.3L291.0,426.2L291.5,425.4L292.0,425.2L292.5,424.4L293.0,424.2L293.5,423.5L294.0,423.3L294.5,422.5L295.0,422.4L295.5,421.6L296.0,421.5L296.5,420.8L297.0,420.6L297.5,419.9L298.0,419.8L298.5,419.1L299.0,419.0L299.5,418.3L300.0,418.2L300.5,417.5L301.0,417.4L301.5,416.7L302.0,416.7L302.5,416.0L303.0,416.0L303.5,415.3L304.0,415.3L304.5,414.7L305.0,414.7L305.5,414.0L306.0,414.0L306.5,413.4L307.0,413.4L307.5,412.8L308.0,412.9L308.5,412.3L309.0,412.3L309.5,411.7L310.0,411.8L310.5,411.2L311.0,411.4L311.5,410.8L312.0,410.9L312.5,410.4L313.0,410.5L313.5,410.1L314.0,410.1L314.5,409.7L315.0,409.8L315.5,409.4L316.0,409.6L316.5,409.1L317.0,409.4L317.5,408.9L318.0,409.1L318.5,408.8L319.0,409.0L319.5,408.6L320.0,408.9L320.5,408.5L321.0,408.8L321.5,408.5L322.0,408.9L322.5,408.6L323.0,408.9L323.5,408.6L324.0,409.0L324.5,408.8L325.0,409.2L325.5,409.0L326.0,409.4L326.5,409.2L327.0,409.6L327.5,409.5L328.0,409.9L328.5,409.8L329.0,410.3L329.5,410.1L330.0,410.6L330.5,410.5L331.0,411.0L331.5,410.9L332.0,411.5L332.5,411.3L333.0,411.9L333.5,411.8L334.0,412.4L334.5,412.4L335.0,413.0L335.5,412.9L336.0,413.6L336.5,413.5L337.0,414.2L337.5,414.2L338.0,414.9L338.5,414.9L339.0,415.6L339.5,415.7L340.0,416.4L340.5,416.5L341.0,417.2L341.5,417.3L342.0,418.0L342.5,418.2L343.0,418.9L343.5,419.1L344.0,419.9L344.5,420.0L345.0,420.8L345.5,420.9L346.0,421.7L346.5,421.9L347.0,422.8L347.5,423.0L348.0,423.8L348.5,424.0L349.0,424.9L349.5,425.1L350.0,426.0L350.5,426.2L351.0,427.1L351.5,427.3L352.0,428.2L352.5,428.4L353.0,429.3L353.5,429.5L354.0,430.4L354.5,430.6L355.0,431.4L355.5,431.6L356.0,432.5L356.5,432.7L357.0,433.6L357.5,433.8L358.0,434.6L358.5,434.8L359.0,435.7L359.5,435.9L360.0,436.7L360.5,436.9L361.0,437.7L361.5,437.9L362.0,438.8L362.5,438.9L363.0,439.8L363.5,440.0L364.0,440.9L364.5,441.1L365.0,441.9L365.5,442.1L366.0,443.0L366.5,443.1L367.0,444.0L367.5,444.2L368.0,445.1L368.5,445.3L369.0,446.1L369.5,446.4L370.0,447.2L370.5,447.4L371.0,448.3L371.5,448.4L372.0,449.3L372.5,449.5L373.0,450.3L373.5,450.5L374.0,451.3L374.5,451.6L375.0,452.3L375.5,452.6L376.0,453.4L376.5,453.6L377.0,454.3L377.5,454.5L378.0,455.3L378.5,455.4L379.0,456.2L379.5,456.4L380.0,457.2L380.5,457.3L381.0,458.1L381.5,458.2L382.0,459.0L382.5,459.2L383.0,459.9L383.5,460.1L384.0,460.9L384.5,461.1L385.0,461.9L385.5,462.0L386.0,462.8L386.5,462.9L387.0,463.7L387.5,463.8L388.0,464.6L388.5,464.7L389.0,465.4L389.5,465.5L390.0,466.3L390.5,466.4L391.0,467.1L391.5,467.2L392.0,467.9L392.5,467.9L393.0,468.6L393.5,468.6L394.0,469.3L394.5,469.3L395.0,469.9L395.5,469.9L396.0,470.6L396.5,470.5L397.0,471.1L397.5,471.0L398.0,471.7L398.5,471.5L399.0,472.1L399.5,472.0L400.0,472.6L400.5,472.5L401.0,472.9L401.5,472.9L402.0,473.3L402.5,473.2L403.0,473.7L403.5,473.5L404.0,474.1L404.5,473.9L405.0,474.4L405.5,474.2L406.0,474.6L406.5,474.4L407.0,474.9L407.5,474.7L408.0,475.1L408.5,474.9L409.0,475.3L409.5,475.1L410.0,475.5L410.5,475.2L411.0,475.6L411.5,475.4L412.0,475.7L412.5,475.5L413.0,475.8L413.5,475.6L414.0,476.0L414.5,475.6L415.0,476.0L415.5,475.7L416.0,476.1L416.5,475.7L417.0,476.1L417.5,475.7L418.0,476.0L418.5,475.8L419.0,476.1L419.5,475.7L420.0,476.0L420.5,475.7L421.0,476.0L421.5,475.6L422.0,475.9L422.5,475.6L423.0,475.9L423.5,475.5L424.0,475.8L424.5,475.3L425.0,475.6L425.5,475.3L426.0,475.5L426.5,475.1L427.0,475.3L427.5,474.9L428.0,475.1L428.5,474.8L429.0,474.9L429.5,474.6L430.0,474.7L430.5,474.3L431.0,474.5L431.5,474.0L432.0,474.2L432.5,473.7L433.0,473.9L433.5,473.5L434.0,473.6L434.5,473.2L435.0,473.3L435.5,472.8L436.0,473.0L436.5,472.5L437.0,472.7L437.5,472.1L438.0,472.3L438.5,471.8L439.0,471.9L439.5,471.4L440.0,471.6L440.5,471.1L441.0,471.2L441.5,470.7L442.0,470.8L442.5,470.2L443.0,470.3L443.5,469.9L444.0,470.0L444.5,469.4L445.0,469.6L445.5,469.0L446.0,469.1L446.5,468.5L447.0,468.7L447.5,468.1L448.0,468.2L448.5,467.7L449.0,467.8L449.5,467.3L450.0,467.4L450.5,466.8L451.0,466.9L451.5,466.4L452.0,466.5L452.5,465.9L453.0,466.0L453.5,465.5L454.0,465.6L454.5,465.0L455.0,465.1L455.5,464.5L456.0,464.7L456.5,464.1L457.0,464.2L457.5,463.7L458.0,463.8L458.5,463.2L459.0,463.3L459.5,462.9L460.0,463.0L460.5,462.4L461.0,462.6L461.5,462.0L462.0,462.1L462.5,461.6L463.0,461.8L463.5,461.3L464.0,461.4L464.5,460.8L465.0,461.0L465.5,460.5L466.0,460.7L466.5,460.1L467.0,460.3L467.5,459.8L468.0,460.0L468.5,459.5L469.0,459.7L469.5,459.2L470.0,459.3L470.5,458.8L471.0,459.0L471.5,458.5L472.0,458.7L472.5,458.2L473.0,458.4L473.5,458.0L474.0,458.1L474.5,457.7L475.0,457.9L475.5,457.5L476.0,457.6L476.5,457.1L477.0,457.4L477.5,456.9L478.0,457.1L478.5,456.7L479.0,456.9L479.5,456.5L480.0,456.7L480.5,456.2L481.0,456.5L481.5,456.1L482.0,456.3L482.5,455.9L483.0,456.2L483.5,455.7L484.0,456.0L484.5,455.6L485.0,455.8L485.5,455.4L486.0,455.7L486.5,455.3L487.0,455.6L487.5,455.2L488.0,455.4L488.5,455.1L489.0,455.3L489.5,454.9L490.0,455.2L490.5,454.9L491.0,455.2L491.5,454.8L492.0,455.1L492.5,454.8L493.0,455.0L493.5,454.7L494.0,454.9L494.5,454.6L495.0,454.9L495.5,454.6L496.0,454.9L496.5,454.6L497.0,454.9L497.5,454.5L498.0,454.8L498.5,454.5L499.0,454.8L499.5,454.5L500.0,454.9L500.5,454.5L501.0,454.9L501.5,454.5L502.0,454.9L502.5,454.6L503.0,455.0L503.5,454.6L504.0,454.9L504.5,454.7L505.0,455.0L505.5,454.7L506.0,455.1L506.5,454.8L507.0,455.2L507.5,454.8L508.0,455.2L508.5,454.9L509.0,455.3L509.5,455.0L510.0,455.3L510.5,455.1L511.0,455.5L511.5,455.2L512.0,455.6L512.5,455.3L513.0,455.7L513.5,455.4L514.0,455.8L514.5,455.5L515.0,456.0L515.5,455.6L516.0,456.0L516.5,455.8L517.0,456.2L517.5,455.9L518.0,456.3L518.5,456.1L519.0,456.4L519.5,456.2L520.0,456.7L520.5,456.4L521.0,456.8L521.5,456.6L522.0,457.0L522.5,456.7L523.0,457.1L523.5,456.9L524.0,457.3L524.5,457.1L525.0,457.5L525.5,457.3L526.0,457.7L526.5,457.5L527.0,457.9L527.5,457.6L528.0,458.1L528.5,457.8L529.0,458.3L529.5,458.1L530.0,458.4L530.5,458.2L531.0,458.7L531.5,458.4L532.0,458.9L532.5,458.7L533.0,459.1L533.5,458.9L534.0,459.2L534.5,459.1L535.0,459.5L535.5,459.2L536.0,459.7L536.5,459.4L537.0,459.8L537.5,459.7L538.0,460.1L538.5,459.9L539.0,460.3L539.5,460.1L540.0,460.5L540.5,460.3L541.0,460.7L541.5,460.5L542.0,460.9L542.5,460.7L543.0,461.0L543.5,460.8L544.0,461.2L544.5,461.0L545.0,461.4L545.5,461.2L546.0,461.6L546.5,461.4L547.0,461.8L547.5,461.5L548.0,462.0L548.5,461.7L549.0,462.1L549.5,461.9L550.0,462.3L550.5,462.1L551.0,462.5L551.5,462.2L552.0,462.6L552.5,462.4L553.0,462.8L553.5,462.6L554.0,463.0L554.5,462.8L555.0,463.1L555.5,462.9L556.0,463.3L556.5,463.1L557.0,463.4L557.5,463.2L558.0,463.6L558.5,463.4L559.0,463.7L559.5,463.5L560.0,463.9L560.5,463.6L561.0,464.1L561.5,463.8L562.0,464.2L562.5,463.9L563.0,464.3L563.5,464.1L564.0,464.4L564.5,464.2L565.0,464.6L565.5,464.3L566.0,464.7L566.5,464.4L567.0,464.8L567.5,464.5L568.0,464.9L568.5,464.6L569.0,465.0L569.5,464.7L570.0,465.0L570.5,464.8L571.0,465.1L571.5,464.8L572.0,465.2L572.5,464.9L573.0,465.3L573.5,465.0L574.0,465.3L574.5,465.0L575.0,465.3L575.5,465.1L576.0,465.4L576.5,465.1L577.0,465.5L577.5,465.2L578.0,465.4L578.5,465.1L579.0,465.5L579.5,465.2L580.0,465.5L580.5,465.2L581.0,465.5L581.5,465.3L582.0,465.6L582.5,465.2L583.0,465.6L583.5,465.2L584.0,465.6L584.5,465.3L585.0,465.6L585.5,465.3L586.0,465.6L586.5,465.3L587.0,465.6L587.5,465.2L588.0,465.6L588.5,465.2L589.0,465.6L589.5,465.2L590.0,465.6L590.5,465.2L591.0,465.5L591.5,465.2L592.0,465.5L592.5,465.2L593.0,465.4L593.5,465.1L594.0,465.4L594.5,465.1L595.0,465.4L595.5,465.1L596.0,465.4L596.5,465.0L597.0,465.3L597.5,465.0L598.0,465.3L598.5,465.0L599.0,465.2L599.5,464.8L600.0,465.2L600.5,464.8L601.0,465.1L601.5,464.8L602.0,465.0L602.5,464.6L603.0,465.0L603.5,464.6L604.0,464.9L604.5,464.6L605.0,464.8L605.5,464.5L606.0,464.7L606.5,464.4L607.0,464.7L607.5,464.3L608.0,464.6L608.5,464.2L609.0,464.5L609.5,464.1L610.0,464.5L610.5,464.1L611.0,464.4L611.5,464.0L612.0,464.3L612.5,463.9L613.0,464.2L613.5,463.9L614.0,464.2L614.5,463.8L615.0,464.1L615.5,463.7L616.0,464.0L616.5,463.6L617.0,463.9L617.5,463.5L618.0,463.8L618.5,463.5L619.0,463.7L619.5,463.4L620.0,463.7L620.5,463.3L621.0,463.6L621.5,463.3L622.0,463.5L622.5,463.1L623.0,463.4L623.5,463.1L624.0,463.4L624.5,463.0L625.0,463.2L625.5,463.0L626.0,463.2L626.5,462.8L627.0,463.1L627.5,462.8L628.0,463.0L628.5,462.7L629.0,462.9L629.5,462.6L630.0,462.9L630.5,462.5L631.0,462.8L631.5,462.5L632.0,462.8L632.5,462.4L633.0,462.7L633.5,462.3L634.0,462.6L634.5,462.3L635.0,462.5L635.5,462.2L636.0,462.4L636.5,462.1L637.0,462.4L637.5,462.1L638.0,462.3L638.5,462.0L639.0,462.3L639.5,461.9L640.0,462.2L640.5,461.9L641.0,462.2L641.5,461.8L642.0,462.1L642.5,461.8L643.0,462.0L643.5,461.7L644.0,462.0L644.5,461.6L645.0,461.9L645.5,461.6L646.0,461.9L646.5,461.6L647.0,461.8L647.5,461.5L648.0,461.8L648.5,461.5L649.0,461.8L649.5,461.5L650.0,461.8L650.5,461.4L651.0,461.7L651.5,461.4L652.0,461.7L652.5,461.4L653.0,461.7L653.5,461.4L654.0,461.6L654.5,461.3L655.0,461.6L655.5,461.3L656.0,461.5L656.5,461.2L657.0,461.5L657.5,461.1L658.0,461.4L658.5,460.9L659.0,461.2L659.5,460.9L660.0,461.1L660.5,460.7L661.0,461.0L661.5,460.6L662.0,460.9L662.5,460.5L663.0,460.7L663.5,460.4L664.0,460.7L664.5,460.3L665.0,460.6L665.5,460.3L666.0,460.7L666.5,460.4L667.0,460.8L667.5,460.6L668.0,461.0L668.5,460.8L669.0,461.2L669.5,461.1L670.0,461.7L670.5,461.6L671.0,462.1L671.5,462.0L672.0,462.5L672.5,462.5L673.0,462.5L673.5,462.5L674.0,462.5L674.5,462.5L675.0,462.5L675.5,462.5L676.0,462.5L676.5,462.5L677.0,462.5L677.5,462.5L678.0,462.5L678.5,462.5L679.0,462.5L679.5,462.5L680.0,462.5L680.5,462.5L681.0,462.5L681.5,462.5L682.0,462.5L682.5,462.5L683.0,462.5L683.5,462.5L684.0,462.5L684.5,462.5L685.0,462.5L685.5,462.5L686.0,462.5L686.5,462.5L687.0,462.5L687.5,462.5L688.0,462.5L688.5,462.5L689.0,462.5L689.5,462.5L690.0,462.5L690.5,462.5L691.0,462.5L691.5,462.5L692.0,462.5L692.5,462.5L693.0,462.5L693.5,462.5L694.0,462.5L694.5,462.5L695.0,462.5L695.5,462.5L696.0,462.5L696.5,462.5L697.0,462.5L697.5,462.5L698.0,462.5L698.5,462.5L699.0,462.5L699.5,462.5L700.0,462.5L700.5,462.5L701.0,462.5L701.5,462.5L702.0,462.5L702.5,462.5L703.0,462.5L703.5,462.5L704.0,462.5L704.5,462.5L705.0,462.5L705.5,462.5L706.0,462.5L706.5,462.5L707.0,462.5L707.5,462.5L708.0,462.5L708.5,462.5L709.0,462.5L709.5,462.5L710.0,462.5L710.5,462.5L711.0,462.5L711.5,462.5L712.0,462.5L712.5,462.5L713.0,462.5L713.5,462.5L714.0,462.5L714.5,462.5L715.0,462.5L715.5,462.5L716.0,462.5L716.5,462.5L717.0,462.5L717.5,462.5L718.0,462.5L718.5,462.5L719.0,462.5L719.5,462.5L720.0,462.5L720.5,462.5L721.0,462.5L721.5,462.5L722.0,462.5L722.5,462.5L723.0,462.5L723.5,462.5L724.0,462.5L724.5,462.5L725.0,462.5L725.5,462.5L726.0,462.5L726.5,462.5L727.0,462.5L727.5,462.5L728.0,462.5L728.5,462.5L729.0,462.5L729.5,462.5L730.0,462.5L730.5,462.5L731.0,462.5L731.5,462.5L732.0,462.5L732.5,462.5L733.0,462.5L733.5,462.5L734.0,462.5L734.5,462.5L735.0,462.5L735.5,462.5L736.0,462.5L736.5,462.5L737.0,462.5L737.5,462.5L738.0,462.5L738.5,462.5L739.0,462.5L739.5,462.5L740.0,462.5L740.5,462.5L741.0,462.5L741.5,462.5L742.0,462.5L742.5,462.5L743.0,462.5L743.5,462.5L744.0,462.5L744.5,462.5L745.0,462.5L745.5,462.5L746.0,462.5L746.5,462.5L747.0,462.5L747.5,462.5L748.0,462.5L748.5,462.5L749.0,462.5L749.5,462.5L750.0,462.5L750.5,462.5L751.0,462.5L751.5,462.5L752.0,462.5L752.5,462.5L753.0,462.5L753.5,462.5L754.0,462.5L754.5,462.5L755.0,462.5L755.5,462.5L756.0,462.5L756.5,462.5L757.0,462.5L757.5,462.5L758.0,462.5L758.5,462.5L759.0,462.5L759.5,462.5L760.0,462.5L760.5,462.5L761.0,462.5L761.5,462.5L762.0,462.5L762.5,462.5L763.0,462.5L763.5,462.5L764.0,462.5L764.5,462.5L765.0,462.5L765.5,462.5L766.0,462.5L766.5,462.5L767.0,462.5L767.5,462.5L768.0,462.5L768.5,462.5L769.0,462.5L769.5,462.5L770.0,462.5L770.5,462.5L771.0,462.5L771.5,462.5L772.0,462.5L772.5,462.5L773.0,462.5L773.5,462.5L774.0,462.5L774.5,462.5L775.0,462.5L775.5,462.5L776.0,462.5L776.5,462.5L777.0,462.5L777.5,462.5L778.0,462.5L778.5,462.5L779.0,462.5L779.5,462.5L780.0,462.5L780.5,462.5L781.0,462.5L781.5,462.5L782.0,462.5L782.5,462.5L783.0,462.5L783.5,462.5L784.0,462.5L784.5,462.5L785.0,462.5L785.5,462.5L786.0,462.5L786.5,462.5L787.0,462.5L787.5,462.5L788.0,462.5L788.5,462.5L789.0,462.5L789.5,462.5L790.0,462.5L790.5,462.5L791.0,462.5L791.5,462.5L792.0,462.5L792.5,462.5L793.0,462.5L793.5,462.5L794.0,462.5L794.5,462.5L795.0,462.5L795.5,462.5L796.0,462.5L796.5,462.5L797.0,462.5L797.5,462.5L798.0,462.5L798.5,462.5L799.0,462.5L799.5,462.5L800.0,462.5L800.5,462.5L801.0,462.5L801.5,462.5L802.0,462.5L802.5,462.5L803.0,462.5L803.5,462.5L804.0,462.5L804.5,462.5L805.0,462.5L805.5,462.5L806.0,462.5L806.5,462.5L807.0,462.5L807.5,462.5L808.0,462.5L808.5,462.5L809.0,462.5L809.5,462.5L810.0,462.5L810.5,462.5L811.0,462.5L811.5,462.5L812.0,462.5L812.5,462.5L813.0,462.5L813.5,462.5L814.0,462.5L814.5,462.5L815.0,462.5L815.5,462.5L816.0,462.5L816.5,462.5L817.0,462.5L817.5,462.5L818.0,462.5L818.5,462.5L819.0,462.5L819.5,462.5L820.0,462.5L820.5,462.5L821.0,462.5L821.5,462.5L822.0,462.5L822.5,462.5L823.0,462.5L823.5,462.5L824.0,462.5L824.5,462.5L825.0,462.5L825.5,462.5L826.0,462.5L826.5,462.5L827.0,462.5L827.5,462.5L828.0,462.5L828.5,462.5L829.0,462.5L829.5,462.5L830.0,462.5L830.5,462.5L831.0,462.5L831.5,462.5L832.0,462.5L832.5,462.5L833.0,462.5L833.5,462.5L834.0,462.5L834.5,462.5L835.0,462.5L835.5,462.5L836.0,462.5L836.5,462.5L837.0,462.5L837.5,462.5L838.0,462.5L838.5,462.5L839.0,462.5L839.5,462.5L840.0,462.5L840.5,462.5L841.0,462.5L841.5,462.5L842.0,462.5L842.5,462.5L843.0,462.5L843.5,462.5L844.0,462.5L844.5,462.5L845.0,462.5L845.5,462.5L846.0,462.5L846.5,462.5L847.0,462.5L847.5,462.5L848.0,462.5L848.5,462.5L849.0,462.5L849.5,462.5L850.0,462.5L850.5,462.5L851.0,462.5L851.5,462.5L852.0,462.5L852.5,462.5L853.0,462.5L853.5,462.5L854.0,462.5L854.5,462.5L855.0,462.5L855.5,462.5L856.0,462.5L856.5,462.5L857.0,462.5L857.5,462.5L858.0,462.5L858.5,462.5L859.0,462.5L859.5,462.5L860.0,462.5L860.5,462.5L861.0,462.5L861.5,462.5L862.0,462.5L862.5,462.5L863.0,462.5L863.5,462.5L864.0,462.5L864.5,462.5L865.0,462.5L865.5,462.5L866.0,462.5L866.5,462.5L867.0,462.5L867.5,462.5L868.0,462.5L868.5,462.5L869.0,462.5L869.5,462.5L870.0,462.5L870.5,462.5L871.0,462.5L871.5,462.5L872.0,462.5L872.5,462.5L873.0,462.5L873.5,462.5L874.0,462.5L874.5,462.5L875.0,462.5L875.5,462.5L876.0,462.5L876.5,462.5L877.0,462.5L877.5,462.5L878.0,462.5L878.5,462.5L879.0,462.5L879.5,462.5L880.0,462.5L880.5,462.5L881.0,462.5L881.5,462.5L882.0,462.5L882.5,462.5L883.0,462.5L883.5,462.5L884.0,462.5L884.5,462.5L885.0,462.5L885.5,462.5L886.0,462.5L886.5,462.5L887.0,462.5L887.5,462.5L888.0,462.5L888.5,462.5L889.0,462.5L889.5,462.5L890.0,462.5L890.5,462.5L891.0,462.5L891.5,462.5L892.0,462.5L892.5,462.5L893.0,462.5L893.5,462.5L894.0,462.5L894.5,462.5L895.0,462.5L895.5,462.5L896.0,462.5L896.5,462.5L897.0,462.5L897.5,462.5L898.0,462.5L898.5,462.5L899.0,462.5L899.5,462.5L900.0,462.5L900.5,462.5L901.0,462.5L901.5,462.5L902.0,462.5L902.5,462.5L903.0,462.5L903.5,462.5L904.0,462.5L904.5,462.5L905.0,462.5L905.5,462.5L906.0,462.5L906.5,462.5L907.0,462.5L907.5,462.5L908.0,462.5L908.5,462.5L909.0,462.5L909.5,462.5L910.0,462.5L910.5,462.5L911.0,462.5L911.5,462.5L912.0,462.5L912.5,462.5L913.0,462.5L913.5,462.5L914.0,462.5L914.5,462.5L915.0,462.5L915.5,462.5L916.0,462.5L916.5,462.5L917.0,462.5L917.5,462.5L918.0,462.5L918.5,462.5L919.0,462.5L919.5,462.5L920.0,462.5L920.5,462.5L921.0,462.5L921.5,462.5L922.0,462.5L922.5,462.5L923.0,462.5L923.5,462.5L924.0,462.5L924.5,462.5L925.0,462.5L925.5,462.5L926.0,462.5L926.5,462.5L927.0,462.5L927.5,462.5L928.0,462.5L928.5,462.5L929.0,462.5L929.5,462.5L930.0,462.5L930.5,462.5L931.0,462.5L931.5,462.5L932.0,462.5L932.5,462.5L933.0,462.5L933.5,462.5L934.0,462.5L934.5,462.5L935.0,462.5L935.5,462.5L936.0,462.5L936.5,462.5L937.0,462.5L937.5,462.5L938.0,462.5L938.5,462.5L939.0,462.5L939.5,462.5L940.0,462.5L940.5,462.5L941.0,462.5L941.5,462.5L942.0,462.5L942.5,462.5L943.0,462.5L943.5,462.5L944.0,462.5L944.5,462.5L945.0,462.5L945.5,462.5L946.0,462.5L946.5,462.5L947.0,462.5L947.5,462.5L948.0,462.5L948.5,462.5L949.0,462.5L949.5,462.5L950.0,462.5L950.5,462.5L951.0,462.5L951.5,462.5L952.0,462.5L952.5,462.5L953.0,462.5L953.5,462.5L954.0,462.5L954.5,462.5L955.0,462.5L955.5,462.5L956.0,462.5L956.5,462.5L957.0,462.5L957.5,462.5L958.0,462.5L958.5,462.5L959.0,462.5L959.5,462.5L960.0,462.5L960.5,462.5L961.0,462.5L961.5,462.5L962.0,462.5L962.5,462.5L963.0,462.5L963.5,462.5L964.0,462.5L964.5,462.5L965.0,462.5L965.5,462.5L966.0,462.5L966.5,462.5L967.0,462.5L967.5,462.5L968.0,462.5L968.5,462.5L969.0,462.5L969.5,462.5L970.0,462.5L970.5,462.5L971.0,462.5L971.5,462.5L972.0,462.5L972.5,462.5L973.0,462.5L973.5,462.5L974.0,462.5L974.5,462.5L975.0,462.5L975.5,462.5L976.0,462.5L976.5,462.5L977.0,462.5L977.5,462.5L978.0,462.5L978.5,462.5L979.0,462.5L979.5,462.5L980.0,462.5L980.5,462.5L981.0,462.5L981.5,462.5L982.0,462.5L982.5,462.5L983.0,462.5L983.5,462.5L984.0,462.5L984.5,462.5L985.0,462.5L985.5,462.5L986.0,462.5L986.5,462.5L987.0,462.5L987.5,462.5L988.0,462.5L988.5,462.5L989.0,462.5L989.5,462.5L990.0,462.5L990.5,462.5L991.0,462.5L991.5,462.5L992.0,462.5L992.5,462.5L993.0,462.5L993.5,462.5L994.0,462.5L994.5,462.5L995.0,462.5L995.5,462.5L996.0,462.5L996.5,462.5L997.0,462.5L997.5,462.5L998.0,462.5L998.5,462.5L999.0,462.5L999.5,462.5L1000.0,462.5L1000.5,462.5L1001.0,462.5L1001.5,462.5L1002.0,462.5L1002.5,462.5L1003.0,462.5L1003.5,462.5L1004.0,462.5L1004.5,462.5L1005.0,462.5L1005.5,462.5L1006.0,462.5L1006.5,462.5L1007.0,462.5L1007.5,462.5L1008.0,462.5L1008.5,462.5L1009.0,462.5L1009.5,462.5L1010.0,462.5L1010.5,462.5L1011.0,462.5L1011.5,462.5L1012.0,462.5L1012.5,462.5L1013.0,462.5L1013.5,462.5L1014.0,462.5L1014.5,462.5L1015.0,462.5L1015.5,462.5L1016.0,462.5L1016.5,462.5L1017.0,462.5L1017.5,462.5L1018.0,462.5L1018.5,462.5L1019.0,462.5L1019.5,462.5L1020.0,462.5L1020.5,462.5L1021.0,462.5L1021.5,462.5L1022.0,462.5L1022.5,462.5L1023.0,462.5L1023.5,462.5L1024.0,462.5L1024.5,462.5L1025.0,462.5L1025.5,462.5L1026.0,462.5L1026.5,462.5L1027.0,462.5L1027.5,462.5L1028.0,462.5L1028.5,462.5L1029.0,462.5L1029.5,462.5L1030.0,462.5L1030.5,462.5L1031.0,462.5L1031.5,462.5L1032.0,462.5L1032.5,462.5L1033.0,462.5L1033.5,462.5L1034.0,462.5L1034.5,462.5L1035.0,462.5L1035.5,462.5L1036.0,462.5L1036.5,462.5L1037.0,462.5L1037.5,462.5L1038.0,462.5L1038.5,462.5L1039.0,462.5L1039.5,462.5L1040.0,462.5L1040.5,462.5L1041.0,462.5L1041.5,462.5L1042.0,462.5L1042.5,462.5L1043.0,462.5L1043.5,462.5L1044.0,462.5L1044.5,462.5L1045.0,462.5L1045.5,462.5L1046.0,462.5L1046.5,462.5L1047.0,462.5L1047.5,462.5L1048.0,462.5L1048.5,462.5L1049.0,462.5L1049.5,462.5L1050.0,462.5L1050.5,462.5L1051.0,462.5L1051.5,462.5L1052.0,462.5L1052.5,462.5L1053.0,462.5L1053.5,462.5L1054.0,462.5L1054.5,462.5L1055.0,462.5L1055.5,462.5L1056.0,462.5L1056.5,462.5L1057.0,462.5L1057.5,462.5L1058.0,462.5L1058.5,462.5L1059.0,462.5L1059.5,462.5L1060.0,462.5L1060.5,462.5L1061.0,462.5L1061.5,462.5L1062.0,462.5L1062.5,462.5L1063.0,462.5L1063.5,462.5L1064.0,462.5L1064.5,462.5L1065.0,462.5L1065.5,462.5L1066.0,462.5L1066.5,462.5L1067.0,462.5L1067.5,462.5L1068.0,462.5L1068.5,462.5L1069.0,462.5L1069.5,462.5L1070.0,462.5L1070.5,462.5L1071.0,462.5L1071.5,462.5L1072.0,462.5L1072.5,462.5L1073.0,462.5L1073.5,462.5L1074.0,462.5L1074.5,462.5L1075.0,462.5L1075.5,462.5L1076.0,462.5L1076.5,462.5L1077.0,462.5L1077.5,462.5L1078.0,462.5L1078.5,462.5L1079.0,462.5L1079.5,462.5L1080.0,462.5L1080.5,462.5L1081.0,462.5L1081.5,462.5L1082.0,462.5L1082.5,462.5L1083.0,462.5L1083.5,462.5L1084.0,462.5L1084.5,462.5L1085.0,462.5L1085.5,462.5L1086.0,462.5L1086.5,462.5L1087.0,462.5L1087.5,462.5L1088.0,462.5L1088.5,462.5L1089.0,462.5L1089.5,462.5L1090.0,462.5L1090.5,462.5L1091.0,462.5L1091.5,462.5L1092.0,462.5L1092.5,462.5L1093.0,462.5L1093.5,462.5L1094.0,462.5L1094.5,462.5L1095.0,462.5L1095.5,462.5L1096.0,462.5L1096.5,462.5L1097.0,462.5L1097.5,462.5L1098.0,462.5L1098.5,462.5L1099.0,462.5L1099.5,462.5L1100.0,462.5L1100.5,462.5L1101.0,462.5L1101.5,462.5L1102.0,462.5" stroke="#D95319"/>
<path d="M157.8,419.5L296.7,419.5L297.3,419.0L331.7,419.0L332.3,418.5L421.7,418.5L422.3,419.0L474.7,419.0L475.3,418.5L892.1,418.5L892.4,418.5L892.6,415.8L892.9,413.3L893.1,411.0L893.4,408.8L893.6,406.7L893.9,404.8L894.1,403.0L894.4,401.3L894.6,399.7L894.9,398.3L895.1,396.9L895.4,395.6L895.6,394.4L895.9,393.2L896.1,392.2L896.4,391.2L896.6,390.2L896.9,389.4L897.1,388.5L897.4,387.8L897.6,387.0L897.9,386.4L898.1,385.7L898.4,385.2L898.6,384.6L898.9,384.1L899.1,383.6L899.4,383.2L899.6,382.7L899.9,382.3L900.1,382.0L900.4,381.6L900.6,381.3L900.9,381.0L901.1,380.7L901.4,380.4L901.6,380.2L901.9,379.9L902.1,379.7L902.4,379.5L902.6,379.3L902.9,379.1L903.1,379.0L903.4,378.8L903.6,378.7L903.9,378.5L904.1,378.4L904.4,378.3L904.6,378.2L904.9,378.1L905.1,378.0L905.4,377.9L905.6,377.8L905.9,377.7L906.1,377.6L906.4,377.6L906.6,377.5L906.9,377.4L907.1,377.4L907.4,377.3L907.6,377.3L907.9,377.2L908.1,377.2L908.4,377.1L908.6,377.1L908.9,377.0L909.1,377.0L909.4,377.0L909.6,376.9L909.9,376.9L910.1,376.9L910.4,376.9L910.6,376.8L910.9,376.8L911.1,376.8L911.4,376.8L911.6,376.8L911.9,376.7L912.1,376.7L912.4,376.7L912.6,376.7L912.9,376.7L913.1,376.7L913.4,376.7L913.6,376.7L913.9,376.6L914.1,376.6L914.4,376.6L914.6,376.6L914.9,376.6L915.1,376.6L915.4,376.6L915.6,376.6L915.9,376.6L916.1,376.6L916.4,376.6L916.6,376.6L916.9,376.6L917.1,376.6L917.4,376.6L917.6,376.6L917.9,376.6L918.1,376.5L918.4,376.5L918.6,376.5L918.9,376.5L919.1,376.5L919.4,376.5L919.6,376.5L919.9,376.5L920.1,376.5L920.4,376.5L920.6,376.5L920.9,376.5L921.1,376.5L921.4,376.5L921.6,376.5L921.9,376.5L922.1,376.5L922.4,376.5L922.9,376.5L923.4,376.5L923.9,376.5L924.4,376.5L924.9,376.5L925.4,376.5L925.9,376.5L926.4,376.5L926.9,376.5L927.4,376.5L927.9,376.5L928.4,376.5L928.9,376.5L929.4,376.5L929.9,376.5L930.4,376.5L930.9,376.5L931.4,376.5L931.9,376.5L932.4,376.5L932.9,376.5L933.4,376.5L933.9,376.5L934.4,376.5L934.9,376.5L935.4,376.5L935.9,376.5L936.4,376.5L936.9,376.5L937.4,376.5L937.9,376.5L938.4,376.5L938.9,376.5L939.4,376.5L939.9,376.5L940.4,376.5L940.9,376.5L941.4,376.5L941.9,376.5L942.4,376.5L942.9,376.5L943.4,376.5L943.9,376.5L944.4,376.5L944.9,376.5L945.4,376.5L945.9,376.5L946.4,376.5L946.9,376.5L947.4,376.5L947.9,376.5L948.4,376.5L948.9,376.5L949.4,376.5L949.9,376.5L950.4,376.5L950.9,376.5L951.4,376.5L951.9,376.5L952.4,376.5L952.9,376.5L953.4,376.5L953.9,376.5L954.4,376.5L954.9,376.5L955.4,376.5L955.9,376.5L956.4,376.5L956.9,376.5L957.4,376.5L957.9,376.5L958.4,376.5L958.9,376.5L959.4,376.5L959.9,376.5L960.4,376.5L960.9,376.5L961.4,376.5L961.9,376.5L962.4,376.5L962.9,376.5L963.4,376.5L963.9,376.5L964.4,376.5L964.9,376.5L965.4,376.5L965.9,376.5L966.4,376.5L966.9,376.5L967.4,376.5L967.9,376.5L968.4,376.5L968.9,376.5L969.4,376.5L969.9,376.5L970.4,376.5L970.9,376.5L971.4,376.5L971.9,376.5L972.4,376.5L972.9,376.5L973.4,376.5L973.9,376.5L974.4,376.5L974.9,376.5L975.4,376.5L975.9,376.5L976.4,376.5L976.9,376.5L977.4,376.5L977.9,376.5L978.4,376.5L978.9,376.5L979.4,376.5L979.9,376.5L980.4,376.5L980.9,376.5L981.4,376.5L981.9,376.5L982.4,376.5L982.9,376.5L983.4,376.5L983.9,376.5L984.4,376.5L984.9,376.5L985.4,376.5L985.9,376.5L986.4,376.5L986.9,376.5L987.4,376.5L987.9,376.5L988.4,376.5L988.9,376.5L989.4,376.5L989.9,376.5L990.4,376.5L990.9,376.5L991.4,376.5L991.9,376.5L992.4,376.5L992.9,376.5L993.4,376.5L993.9,376.5L994.4,376.5L994.9,376.5L995.4,376.5L995.9,376.5L996.4,376.5L996.9,376.5L997.4,376.5L997.9,376.5L998.4,376.5L998.9,376.5L999.4,376.5L999.9,376.5L1000.4,376.5L1000.9,376.5L1001.4,376.5L1001.9,376.5L1002.4,376.5L1002.9,376.5L1003.4,376.5L1003.9,376.5L1004.4,376.5L1004.9,376.5L1005.4,376.5L1005.9,376.5L1006.4,376.5L1006.9,376.5L1007.4,376.5L1007.9,376.5L1008.4,376.5L1008.9,376.5L1009.4,376.5L1009.9,376.5L1010.4,376.5L1010.9,376.5L1011.4,376.5L1011.9,376.5L1012.4,376.5L1012.9,376.5L1013.4,376.5L1013.9,376.5L1014.4,376.5L1014.9,376.5L1015.4,376.5L1015.9,376.5L1016.4,376.5L1016.9,376.5L1017.4,376.5L1017.9,376.5L1018.4,376.5L1018.9,376.5L1019.4,376.5L1019.9,376.5L1020.4,376.5L1020.9,376.5L1021.4,376.5L1021.9,376.5L1022.4,376.5L1022.9,376.5L1023.4,376.5L1023.9,376.5L1024.4,376.5L1024.9,376.5L1025.4,376.5L1025.9,376.5L1026.4,376.5L1026.9,376.5L1027.4,376.5L1027.9,376.5L1028.4,376.5L1028.9,376.5L1029.4,376.5L1029.9,376.5L1030.4,376.5L1030.9,376.5L1031.4,376.5L1031.9,376.5L1032.4,376.5L1032.9,376.5L1033.4,376.5L1033.9,376.5L1034.4,376.5L1034.9,376.5L1035.4,376.5L1035.9,376.5L1036.4,376.5L1036.9,376.5L1037.4,376.5L1037.9,376.5L1038.4,376.5L1038.9,376.5L1039.4,376.5L1039.9,376.5L1040.4,376.5L1040.9,376.5L1041.4,376.5L1041.9,376.5L1042.4,376.5L1042.9,376.5L1043.4,376.5L1043.9,376.5L1044.4,376.5L1044.9,376.5L1045.4,376.5L1045.9,376.5L1046.4,376.5L1046.9,376.5L1047.4,376.5L1047.9,376.5L1048.4,376.5L1048.9,376.5L1049.4,376.5L1049.9,376.5L1050.4,376.5L1050.9,376.5L1051.4,376.5L1051.9,376.5L1052.4,376.5L1052.9,376.5L1053.4,376.5L1053.9,376.5L1054.4,376.5L1054.9,376.5L1055.4,376.5L1055.9,376.5L1056.4,376.5L1056.9,376.5L1057.4,376.5L1057.9,376.5L1058.4,376.5L1058.9,376.5L1059.4,376.5L1059.9,376.5L1060.4,376.5L1060.9,376.5L1061.4,376.5L1061.9,376.5L1062.4,376.5L1062.9,376.5L1063.4,376.5L1063.9,376.5L1064.4,376.5L1064.9,376.5L1065.4,376.5L1065.9,376.5L1066.4,376.5L1066.9,376.5L1067.4,376.5L1067.9,376.5L1068.4,376.5L1068.9,376.5L1069.4,376.5L1069.9,376.5L1070.4,376.5L1070.9,376.5L1071.4,376.5L1071.9,376.5L1072.4,376.5L1072.9,376.5L1073.4,376.5L1073.9,376.5L1074.4,376.5L1074.9,376.5L1075.4,376.5L1075.9,376.5L1076.4,376.5L1076.9,376.5L1077.4,376.5L1077.9,376.5L1078.4,376.5L1078.9,376.5L1079.4,376.5L1079.9,376.5L1080.4,376.5L1080.9,376.5L1081.4,376.5L1081.9,376.5L1082.4,376.5L1082.9,376.5L1083.4,376.5L1083.9,376.5L1084.4,376.5L1084.9,376.5L1085.4,376.5L1085.9,376.5L1086.4,376.5L1086.9,376.5L1087.4,376.5L1087.9,376.5L1088.4,376.5L1088.9,376.5L1089.4,376.5L1089.9,376.5L1090.4,376.5L1090.9,376.5L1091.4,376.5L1091.9,376.5L1092.4,376.5L1092.9,376.5L1093.4,376.5L1093.9,376.5L1094.4,376.5L1094.9,376.5L1095.4,376.5L1095.9,376.5L1096.4,376.5L1096.9,376.5L1097.4,376.5L1097.9,376.5L1098.4,376.5L1098.9,376.5L1099.4,376.5L1099.9,376.5L1100.4,376.5L1100.9,376.5L1101.4,376.5L1101.9,376.5" stroke="#EDB120"/>
<path d="M160,434.5H264" stroke="#0072BD" stroke-width="1" stroke-dasharray="3 1.2 2 1.2 4 1.4"/>
<path d="M181,439.5H234" stroke="#D95319" stroke-width="1" stroke-dasharray="1.3 2.2"/>
<path d="M159,439.5H168" stroke="#D95319" stroke-width="1" stroke-dasharray="2 2"/>
</g>
<g font-size="13.5" fill="#262626">
<text x="158.50" y="590.5" text-anchor="middle">0.5</text>
<text x="262.50" y="590.5" text-anchor="middle">1</text>
<text x="368.60" y="590.5" text-anchor="middle">1.5</text>
<text x="472.50" y="590.5" text-anchor="middle">2</text>
<text x="578.20" y="590.5" text-anchor="middle">2.5</text>
<text x="681.65" y="590.5" text-anchor="middle">3</text>
<text x="787.50" y="590.5" text-anchor="middle">3.5</text>
<text x="891.60" y="590.5" text-anchor="middle">4</text>
<text x="997.50" y="590.5" text-anchor="middle">4.5</text>
<text x="1101.50" y="590.5" text-anchor="middle">5</text>
<text x="152.4" y="379.5" text-anchor="end">20</text>
<text x="152.4" y="423.5" text-anchor="end">10</text>
<text x="152.4" y="467.5" text-anchor="end">0</text>
<text x="152.4" y="511.5" text-anchor="end">-10</text>
<text x="152.4" y="555.5" text-anchor="end">-20</text>
</g>
<text x="630.5" y="610.6" font-size="15" fill="#262626" text-anchor="middle">Time (s)</text>
<text transform="translate(125.2,462.5) rotate(-90)" font-size="14.75" fill="#262626" text-anchor="middle">Reactive Power (KVAr)</text>
<text x="628" y="346" font-size="14.67" font-weight="bold" fill="#000" text-anchor="middle">Reactive Power</text>
<rect x="1006.5" y="364.5" width="84" height="53" fill="#fff" stroke="#262626" stroke-width="1"/>
<path d="M1011,373.5H1051" stroke="#0072BD" stroke-width="1"/>
<text x="1054.3" y="378.5" font-size="12" fill="#000">BESS</text>
<path d="M1011,390.5H1051" stroke="#D95319" stroke-width="1"/>
<text x="1054.3" y="394.7" font-size="12" fill="#000">Grid</text>
<path d="M1011,406.5H1051" stroke="#EDB120" stroke-width="1"/>
<text x="1054.3" y="411.6" font-size="12" fill="#000">Load</text>
</svg>
</body>
</html>
